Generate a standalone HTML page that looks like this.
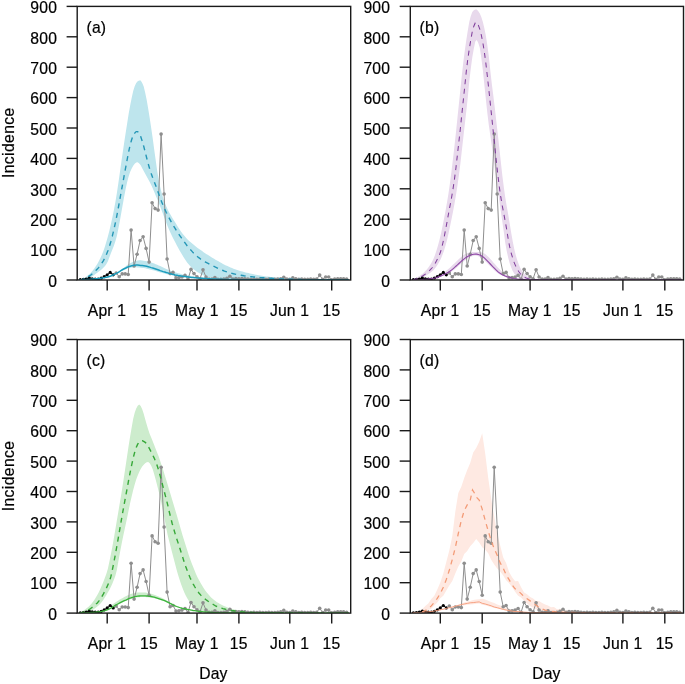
<!DOCTYPE html>
<html><head><meta charset="utf-8"><title>Incidence</title>
<style>html,body{margin:0;padding:0;background:#fff}svg{display:block}</style></head>
<body>
<svg width="685" height="684" viewBox="0 0 685 684">
<rect width="685" height="684" fill="#fff"/>
<g id="panel-a">
<clipPath id="clip-a"><rect x="77.2" y="6.4" width="273.5" height="273.6"/></clipPath>
<g clip-path="url(#clip-a)">
<path d="M79.4 280.0 L80.9 279.5 L82.4 278.9 L83.9 278.2 L85.4 277.3 L86.8 276.2 L88.3 275.0 L89.8 273.7 L91.3 272.2 L92.8 270.5 L94.3 268.5 L95.8 266.3 L97.3 263.9 L98.8 261.3 L100.3 258.3 L101.8 254.9 L103.3 251.2 L104.8 246.9 L106.3 242.1 L107.8 236.8 L109.3 230.9 L110.8 224.5 L112.3 217.8 L113.8 210.4 L115.3 202.5 L116.8 193.6 L118.3 183.5 L119.8 173.1 L121.3 162.3 L122.8 151.9 L124.3 141.8 L125.8 132.0 L127.3 122.5 L128.7 113.6 L130.2 105.2 L131.7 97.7 L133.2 90.9 L134.7 86.3 L136.2 82.9 L137.7 81.3 L139.2 80.4 L140.7 80.5 L142.2 82.9 L143.7 86.5 L145.2 92.7 L146.7 100.0 L148.2 108.8 L149.7 118.1 L151.2 127.9 L152.7 138.3 L154.2 149.4 L155.7 160.3 L157.2 171.1 L158.7 179.8 L160.2 186.9 L161.7 192.9 L163.2 198.2 L164.7 202.6 L166.2 206.3 L167.7 209.5 L169.2 212.4 L170.7 215.1 L172.1 217.5 L173.6 219.9 L175.1 222.3 L176.6 224.7 L178.1 227.2 L179.6 229.5 L181.1 231.7 L182.6 233.7 L184.1 235.5 L185.6 237.2 L187.1 238.9 L188.6 240.5 L190.1 241.8 L191.6 243.1 L193.1 244.3 L194.6 245.5 L196.1 246.8 L197.6 247.9 L199.1 249.0 L200.6 250.0 L202.1 251.1 L203.6 252.2 L205.1 253.2 L206.6 254.2 L208.1 255.1 L209.6 256.0 L211.1 257.0 L212.6 257.9 L214.1 258.8 L215.5 259.7 L217.0 260.5 L218.5 261.3 L220.0 262.2 L221.5 263.0 L223.0 263.9 L224.5 264.7 L226.0 265.4 L227.5 266.1 L229.0 266.8 L230.5 267.5 L232.0 268.1 L233.5 268.7 L235.0 269.2 L236.5 269.7 L238.0 270.3 L239.5 270.8 L241.0 271.2 L242.5 271.6 L244.0 272.0 L245.5 272.4 L247.0 272.8 L248.5 273.1 L250.0 273.4 L251.5 273.7 L253.0 274.0 L254.5 274.4 L256.0 274.7 L257.4 274.9 L258.9 275.2 L260.4 275.5 L261.9 275.8 L263.4 276.0 L264.9 276.2 L266.4 276.4 L267.9 276.5 L269.4 276.7 L270.9 276.9 L272.4 277.1 L273.9 277.3 L275.4 277.5 L276.9 277.6 L278.4 277.8 L279.9 277.9 L281.4 278.1 L282.9 278.2 L284.4 278.3 L285.9 278.4 L287.4 278.5 L288.9 278.6 L290.4 278.8 L291.9 278.9 L293.4 279.0 L294.9 279.1 L296.4 279.2 L297.9 279.2 L299.4 279.3 L300.8 279.4 L302.3 279.4 L303.8 279.5 L305.3 279.5 L306.8 279.5 L308.3 279.6 L309.8 279.6 L311.3 279.6 L312.8 279.7 L314.3 279.7 L315.8 279.7 L317.3 279.7 L318.8 279.7 L320.3 279.7 L321.8 279.7 L323.3 279.7 L324.8 279.8 L326.3 279.8 L327.8 279.8 L329.3 279.8 L330.8 279.8 L332.3 279.8 L333.8 279.8 L335.3 279.8 L336.8 279.8 L338.3 279.8 L339.8 279.8 L341.3 279.8 L342.7 279.8 L344.2 279.8 L345.7 279.8 L347.2 279.8 L348.7 279.8 L348.7 280.0 L347.2 280.0 L345.7 280.0 L344.2 280.0 L342.7 280.0 L341.3 280.0 L339.8 280.0 L338.3 280.0 L336.8 280.0 L335.3 280.0 L333.8 280.0 L332.3 280.0 L330.8 280.0 L329.3 280.0 L327.8 280.0 L326.3 280.0 L324.8 280.0 L323.3 280.0 L321.8 280.0 L320.3 280.0 L318.8 280.0 L317.3 280.0 L315.8 280.0 L314.3 280.0 L312.8 280.0 L311.3 280.0 L309.8 280.0 L308.3 280.0 L306.8 280.0 L305.3 280.0 L303.8 280.0 L302.3 279.9 L300.8 279.9 L299.4 279.9 L297.9 279.9 L296.4 279.9 L294.9 279.9 L293.4 279.9 L291.9 279.9 L290.4 279.9 L288.9 279.9 L287.4 279.9 L285.9 279.9 L284.4 279.9 L282.9 279.9 L281.4 279.9 L279.9 279.9 L278.4 279.9 L276.9 279.9 L275.4 279.9 L273.9 279.9 L272.4 279.9 L270.9 279.8 L269.4 279.8 L267.9 279.8 L266.4 279.8 L264.9 279.8 L263.4 279.8 L261.9 279.8 L260.4 279.8 L258.9 279.8 L257.4 279.8 L256.0 279.8 L254.5 279.8 L253.0 279.8 L251.5 279.8 L250.0 279.7 L248.5 279.7 L247.0 279.7 L245.5 279.7 L244.0 279.7 L242.5 279.7 L241.0 279.7 L239.5 279.7 L238.0 279.7 L236.5 279.6 L235.0 279.6 L233.5 279.6 L232.0 279.5 L230.5 279.5 L229.0 279.5 L227.5 279.4 L226.0 279.4 L224.5 279.3 L223.0 279.2 L221.5 279.1 L220.0 279.0 L218.5 278.8 L217.0 278.7 L215.5 278.6 L214.1 278.3 L212.6 278.0 L211.1 277.7 L209.6 277.4 L208.1 277.0 L206.6 276.6 L205.1 276.0 L203.6 275.4 L202.1 274.7 L200.6 273.9 L199.1 273.1 L197.6 272.2 L196.1 271.2 L194.6 270.1 L193.1 268.9 L191.6 267.5 L190.1 266.0 L188.6 264.3 L187.1 262.4 L185.6 260.2 L184.1 257.9 L182.6 255.5 L181.1 252.9 L179.6 250.4 L178.1 247.7 L176.6 244.9 L175.1 242.1 L173.6 239.2 L172.1 236.3 L170.7 233.2 L169.2 230.0 L167.7 226.4 L166.2 222.7 L164.7 218.7 L163.2 214.6 L161.7 210.5 L160.2 206.5 L158.7 202.8 L157.2 199.0 L155.7 195.4 L154.2 191.8 L152.7 188.3 L151.2 185.1 L149.7 182.1 L148.2 179.2 L146.7 176.5 L145.2 173.8 L143.7 171.0 L142.2 168.2 L140.7 165.3 L139.2 163.5 L137.7 162.2 L136.2 162.4 L134.7 163.8 L133.2 165.7 L131.7 168.4 L130.2 171.8 L128.7 176.2 L127.3 181.6 L125.8 188.3 L124.3 195.9 L122.8 204.3 L121.3 212.7 L119.8 221.2 L118.3 229.0 L116.8 236.3 L115.3 241.6 L113.8 245.9 L112.3 249.8 L110.8 253.6 L109.3 257.5 L107.8 261.4 L106.3 264.2 L104.8 266.2 L103.3 267.8 L101.8 269.2 L100.3 270.4 L98.8 271.6 L97.3 272.8 L95.8 273.8 L94.3 274.9 L92.8 276.0 L91.3 276.9 L89.8 277.6 L88.3 278.3 L86.8 278.9 L85.4 279.3 L83.9 279.6 L82.4 279.8 L80.9 280.0 L79.4 280.0Z" fill="#BEE5ED"/>
<path d="M79.4 280.0 L80.9 279.9 L82.4 279.8 L83.9 279.8 L85.4 279.7 L86.8 279.6 L88.3 279.5 L89.8 279.4 L91.3 279.2 L92.8 279.1 L94.3 279.0 L95.8 278.8 L97.3 278.6 L98.8 278.4 L100.3 278.2 L101.8 278.0 L103.3 277.8 L104.8 277.5 L106.3 277.2 L107.8 276.8 L109.3 276.4 L110.8 276.0 L112.3 275.3 L113.8 274.7 L115.3 273.9 L116.8 273.0 L118.3 272.0 L119.8 270.9 L121.3 269.8 L122.8 268.6 L124.3 267.4 L125.8 266.2 L127.3 265.1 L128.7 264.1 L130.2 263.2 L131.7 262.4 L133.2 261.7 L134.7 261.2 L136.2 260.8 L137.7 260.5 L139.2 260.3 L140.7 260.3 L142.2 260.5 L143.7 260.7 L145.2 261.0 L146.7 261.2 L148.2 261.5 L149.7 261.9 L151.2 262.4 L152.7 263.0 L154.2 263.6 L155.7 264.2 L157.2 264.8 L158.7 265.4 L160.2 266.1 L161.7 266.8 L163.2 267.5 L164.7 268.2 L166.2 268.9 L167.7 269.5 L169.2 270.1 L170.7 270.7 L172.1 271.2 L173.6 271.8 L175.1 272.3 L176.6 272.8 L178.1 273.2 L179.6 273.6 L181.1 274.0 L182.6 274.4 L184.1 274.7 L185.6 275.0 L187.1 275.3 L188.6 275.6 L190.1 275.8 L191.6 276.1 L193.1 276.3 L194.6 276.5 L196.1 276.7 L197.6 276.9 L199.1 277.1 L200.6 277.3 L202.1 277.4 L203.6 277.6 L205.1 277.8 L206.6 277.9 L208.1 278.1 L209.6 278.2 L211.1 278.3 L212.6 278.4 L214.1 278.5 L215.5 278.6 L217.0 278.7 L218.5 278.8 L220.0 278.9 L221.5 279.0 L223.0 279.0 L224.5 279.1 L226.0 279.2 L227.5 279.2 L229.0 279.3 L230.5 279.3 L232.0 279.4 L233.5 279.4 L235.0 279.4 L236.5 279.5 L238.0 279.5 L239.5 279.5 L241.0 279.5 L242.5 279.6 L244.0 279.6 L245.5 279.6 L247.0 279.6 L248.5 279.6 L250.0 279.7 L251.5 279.7 L253.0 279.7 L254.5 279.7 L256.0 279.7 L257.4 279.7 L258.9 279.8 L260.4 279.8 L261.9 279.8 L263.4 279.8 L264.9 279.8 L266.4 279.8 L267.9 279.8 L269.4 279.8 L270.9 279.8 L272.4 279.8 L273.9 279.8 L275.4 279.8 L276.9 279.8 L278.4 279.8 L279.9 279.8 L281.4 279.8 L282.9 279.8 L284.4 279.8 L285.9 279.8 L287.4 279.8 L288.9 279.8 L290.4 279.8 L291.9 279.9 L293.4 279.9 L294.9 279.9 L296.4 279.9 L297.9 279.9 L299.4 279.9 L300.8 279.9 L302.3 279.9 L303.8 279.9 L305.3 279.9 L306.8 279.9 L308.3 279.9 L309.8 279.9 L311.3 279.9 L312.8 279.9 L314.3 279.9 L315.8 279.9 L317.3 279.9 L318.8 279.9 L320.3 279.9 L321.8 279.9 L323.3 279.9 L324.8 279.9 L326.3 279.9 L327.8 279.9 L329.3 279.9 L330.8 279.9 L332.3 279.9 L333.8 279.9 L335.3 279.9 L336.8 279.9 L338.3 279.9 L339.8 279.9 L341.3 279.9 L342.7 279.9 L344.2 279.9 L345.7 279.9 L347.2 279.9 L348.7 279.9 L348.7 280.0 L347.2 279.9 L345.7 279.9 L344.2 279.9 L342.7 279.9 L341.3 279.9 L339.8 279.9 L338.3 279.9 L336.8 279.9 L335.3 279.9 L333.8 279.9 L332.3 279.9 L330.8 279.9 L329.3 279.9 L327.8 279.9 L326.3 279.9 L324.8 279.9 L323.3 279.9 L321.8 279.9 L320.3 279.9 L318.8 279.9 L317.3 279.9 L315.8 279.9 L314.3 279.9 L312.8 279.9 L311.3 279.9 L309.8 279.9 L308.3 279.9 L306.8 279.9 L305.3 279.9 L303.8 279.9 L302.3 279.9 L300.8 279.9 L299.4 279.9 L297.9 279.9 L296.4 279.9 L294.9 279.9 L293.4 279.9 L291.9 279.9 L290.4 279.9 L288.9 279.9 L287.4 279.9 L285.9 279.9 L284.4 279.9 L282.9 279.9 L281.4 279.9 L279.9 279.9 L278.4 279.9 L276.9 279.9 L275.4 279.9 L273.9 279.9 L272.4 279.9 L270.9 279.9 L269.4 279.9 L267.9 279.9 L266.4 279.9 L264.9 279.9 L263.4 279.9 L261.9 279.9 L260.4 279.9 L258.9 279.9 L257.4 279.8 L256.0 279.8 L254.5 279.8 L253.0 279.8 L251.5 279.8 L250.0 279.8 L248.5 279.8 L247.0 279.8 L245.5 279.8 L244.0 279.8 L242.5 279.8 L241.0 279.7 L239.5 279.7 L238.0 279.7 L236.5 279.7 L235.0 279.7 L233.5 279.7 L232.0 279.7 L230.5 279.6 L229.0 279.6 L227.5 279.6 L226.0 279.6 L224.5 279.5 L223.0 279.5 L221.5 279.5 L220.0 279.4 L218.5 279.4 L217.0 279.3 L215.5 279.3 L214.1 279.2 L212.6 279.2 L211.1 279.1 L209.6 279.1 L208.1 279.0 L206.6 278.9 L205.1 278.8 L203.6 278.8 L202.1 278.7 L200.6 278.6 L199.1 278.5 L197.6 278.4 L196.1 278.2 L194.6 278.1 L193.1 278.0 L191.6 277.9 L190.1 277.8 L188.6 277.6 L187.1 277.5 L185.6 277.3 L184.1 277.1 L182.6 277.0 L181.1 276.8 L179.6 276.6 L178.1 276.4 L176.6 276.1 L175.1 275.9 L173.6 275.6 L172.1 275.3 L170.7 275.0 L169.2 274.7 L167.7 274.4 L166.2 274.0 L164.7 273.6 L163.2 273.2 L161.7 272.8 L160.2 272.4 L158.7 272.0 L157.2 271.5 L155.7 271.1 L154.2 270.6 L152.7 270.2 L151.2 269.8 L149.7 269.4 L148.2 269.0 L146.7 268.7 L145.2 268.3 L143.7 268.1 L142.2 267.9 L140.7 267.7 L139.2 267.6 L137.7 267.4 L136.2 267.3 L134.7 267.3 L133.2 267.4 L131.7 267.6 L130.2 267.9 L128.7 268.2 L127.3 268.7 L125.8 269.2 L124.3 269.8 L122.8 270.4 L121.3 271.1 L119.8 271.9 L118.3 272.7 L116.8 273.4 L115.3 274.1 L113.8 274.8 L112.3 275.5 L110.8 276.0 L109.3 276.6 L107.8 277.0 L106.3 277.4 L104.8 277.7 L103.3 277.9 L101.8 278.2 L100.3 278.4 L98.8 278.6 L97.3 278.7 L95.8 278.9 L94.3 279.0 L92.8 279.1 L91.3 279.2 L89.8 279.4 L88.3 279.5 L86.8 279.6 L85.4 279.7 L83.9 279.8 L82.4 279.8 L80.9 279.9 L79.4 280.0Z" fill="#BEE5ED"/>
<path d="M116.2 273.0 L119.2 276.7 L122.2 273.9 L125.2 273.9 L128.2 274.5 L131.1 230.1 L134.1 266.0 L137.1 254.2 L140.1 240.5 L143.1 236.8 L146.1 248.4 L149.1 262.1 L152.1 202.8 L155.1 208.6 L158.1 210.1 L161.1 134.1 L164.1 194.0 L167.1 259.0 L170.1 273.6 L173.0 272.4 L176.0 277.9 L179.0 277.6 L182.0 277.0 L185.0 275.4 L188.0 279.1 L191.0 269.4 L194.0 273.6 L197.0 276.7 L200.0 278.8 L203.0 269.7 L206.0 277.0 L209.0 279.1 L212.0 279.1 L214.9 277.6 L217.9 279.4 L220.9 279.4 L223.9 279.1 L226.9 278.2 L229.9 276.2 L232.9 279.1 L235.9 278.5 L238.9 278.8 L241.9 278.5 L244.9 278.8 L247.9 279.1 L250.9 279.4 L253.9 279.1 L256.9 279.4 L259.8 279.1 L262.8 279.4 L265.8 279.4 L268.8 279.1 L271.8 279.4 L274.8 279.4 L277.8 279.1 L280.8 278.8 L283.8 277.3 L286.8 279.1 L289.8 279.4 L292.8 277.9 L295.8 278.8 L298.8 279.4 L301.7 279.1 L304.7 279.4 L307.7 279.4 L310.7 279.1 L313.7 279.4 L316.7 279.1 L319.7 275.1 L322.7 279.4 L325.7 277.0 L328.7 277.0 L331.7 279.7 L334.7 279.1 L337.7 278.8 L340.7 278.8 L343.6 278.8 L346.6 279.1" fill="none" stroke="#8e8e8e" stroke-width="1" stroke-linejoin="round"/>
<circle cx="116.2" cy="273.0" r="1.8" fill="#8e8e8e"/>
<circle cx="119.2" cy="276.7" r="1.8" fill="#8e8e8e"/>
<circle cx="122.2" cy="273.9" r="1.8" fill="#8e8e8e"/>
<circle cx="125.2" cy="273.9" r="1.8" fill="#8e8e8e"/>
<circle cx="128.2" cy="274.5" r="1.8" fill="#8e8e8e"/>
<circle cx="131.1" cy="230.1" r="1.8" fill="#8e8e8e"/>
<circle cx="134.1" cy="266.0" r="1.8" fill="#8e8e8e"/>
<circle cx="137.1" cy="254.2" r="1.8" fill="#8e8e8e"/>
<circle cx="140.1" cy="240.5" r="1.8" fill="#8e8e8e"/>
<circle cx="143.1" cy="236.8" r="1.8" fill="#8e8e8e"/>
<circle cx="146.1" cy="248.4" r="1.8" fill="#8e8e8e"/>
<circle cx="149.1" cy="262.1" r="1.8" fill="#8e8e8e"/>
<circle cx="152.1" cy="202.8" r="1.8" fill="#8e8e8e"/>
<circle cx="155.1" cy="208.6" r="1.8" fill="#8e8e8e"/>
<circle cx="158.1" cy="210.1" r="1.8" fill="#8e8e8e"/>
<circle cx="161.1" cy="134.1" r="1.8" fill="#8e8e8e"/>
<circle cx="164.1" cy="194.0" r="1.8" fill="#8e8e8e"/>
<circle cx="167.1" cy="259.0" r="1.8" fill="#8e8e8e"/>
<circle cx="170.1" cy="273.6" r="1.8" fill="#8e8e8e"/>
<circle cx="173.0" cy="272.4" r="1.8" fill="#8e8e8e"/>
<circle cx="176.0" cy="277.9" r="1.8" fill="#8e8e8e"/>
<circle cx="179.0" cy="277.6" r="1.8" fill="#8e8e8e"/>
<circle cx="182.0" cy="277.0" r="1.8" fill="#8e8e8e"/>
<circle cx="185.0" cy="275.4" r="1.8" fill="#8e8e8e"/>
<circle cx="188.0" cy="279.1" r="1.8" fill="#8e8e8e"/>
<circle cx="191.0" cy="269.4" r="1.8" fill="#8e8e8e"/>
<circle cx="194.0" cy="273.6" r="1.8" fill="#8e8e8e"/>
<circle cx="197.0" cy="276.7" r="1.8" fill="#8e8e8e"/>
<circle cx="200.0" cy="278.8" r="1.8" fill="#8e8e8e"/>
<circle cx="203.0" cy="269.7" r="1.8" fill="#8e8e8e"/>
<circle cx="206.0" cy="277.0" r="1.8" fill="#8e8e8e"/>
<circle cx="209.0" cy="279.1" r="1.8" fill="#8e8e8e"/>
<circle cx="212.0" cy="279.1" r="1.8" fill="#8e8e8e"/>
<circle cx="214.9" cy="277.6" r="1.8" fill="#8e8e8e"/>
<circle cx="217.9" cy="279.4" r="1.8" fill="#8e8e8e"/>
<circle cx="220.9" cy="279.4" r="1.8" fill="#8e8e8e"/>
<circle cx="223.9" cy="279.1" r="1.8" fill="#8e8e8e"/>
<circle cx="226.9" cy="278.2" r="1.8" fill="#8e8e8e"/>
<circle cx="229.9" cy="276.2" r="1.8" fill="#8e8e8e"/>
<circle cx="232.9" cy="279.1" r="1.8" fill="#8e8e8e"/>
<circle cx="235.9" cy="278.5" r="1.8" fill="#8e8e8e"/>
<circle cx="238.9" cy="278.8" r="1.8" fill="#8e8e8e"/>
<circle cx="241.9" cy="278.5" r="1.8" fill="#8e8e8e"/>
<circle cx="244.9" cy="278.8" r="1.8" fill="#8e8e8e"/>
<circle cx="247.9" cy="279.1" r="1.8" fill="#8e8e8e"/>
<circle cx="250.9" cy="279.4" r="1.8" fill="#8e8e8e"/>
<circle cx="253.9" cy="279.1" r="1.8" fill="#8e8e8e"/>
<circle cx="256.9" cy="279.4" r="1.8" fill="#8e8e8e"/>
<circle cx="259.8" cy="279.1" r="1.8" fill="#8e8e8e"/>
<circle cx="262.8" cy="279.4" r="1.8" fill="#8e8e8e"/>
<circle cx="265.8" cy="279.4" r="1.8" fill="#8e8e8e"/>
<circle cx="268.8" cy="279.1" r="1.8" fill="#8e8e8e"/>
<circle cx="271.8" cy="279.4" r="1.8" fill="#8e8e8e"/>
<circle cx="274.8" cy="279.4" r="1.8" fill="#8e8e8e"/>
<circle cx="277.8" cy="279.1" r="1.8" fill="#8e8e8e"/>
<circle cx="280.8" cy="278.8" r="1.8" fill="#8e8e8e"/>
<circle cx="283.8" cy="277.3" r="1.8" fill="#8e8e8e"/>
<circle cx="286.8" cy="279.1" r="1.8" fill="#8e8e8e"/>
<circle cx="289.8" cy="279.4" r="1.8" fill="#8e8e8e"/>
<circle cx="292.8" cy="277.9" r="1.8" fill="#8e8e8e"/>
<circle cx="295.8" cy="278.8" r="1.8" fill="#8e8e8e"/>
<circle cx="298.8" cy="279.4" r="1.8" fill="#8e8e8e"/>
<circle cx="301.7" cy="279.1" r="1.8" fill="#8e8e8e"/>
<circle cx="304.7" cy="279.4" r="1.8" fill="#8e8e8e"/>
<circle cx="307.7" cy="279.4" r="1.8" fill="#8e8e8e"/>
<circle cx="310.7" cy="279.1" r="1.8" fill="#8e8e8e"/>
<circle cx="313.7" cy="279.4" r="1.8" fill="#8e8e8e"/>
<circle cx="316.7" cy="279.1" r="1.8" fill="#8e8e8e"/>
<circle cx="319.7" cy="275.1" r="1.8" fill="#8e8e8e"/>
<circle cx="322.7" cy="279.4" r="1.8" fill="#8e8e8e"/>
<circle cx="325.7" cy="277.0" r="1.8" fill="#8e8e8e"/>
<circle cx="328.7" cy="277.0" r="1.8" fill="#8e8e8e"/>
<circle cx="331.7" cy="279.7" r="1.8" fill="#8e8e8e"/>
<circle cx="334.7" cy="279.1" r="1.8" fill="#8e8e8e"/>
<circle cx="337.7" cy="278.8" r="1.8" fill="#8e8e8e"/>
<circle cx="340.7" cy="278.8" r="1.8" fill="#8e8e8e"/>
<circle cx="343.6" cy="278.8" r="1.8" fill="#8e8e8e"/>
<circle cx="346.6" cy="279.1" r="1.8" fill="#8e8e8e"/>
<path d="M80.3 279.7 L83.3 279.4 L86.2 279.1 L89.2 277.9 L92.2 278.8 L95.2 279.1 L98.2 279.1 L101.2 278.2 L104.2 276.7 L107.2 274.8 L110.2 272.4 L113.2 274.8" fill="none" stroke="#000" stroke-width="1" stroke-linejoin="round"/>
<circle cx="80.3" cy="279.7" r="1.6" fill="#000"/>
<circle cx="83.3" cy="279.4" r="1.6" fill="#000"/>
<circle cx="86.2" cy="279.1" r="1.6" fill="#000"/>
<circle cx="89.2" cy="277.9" r="1.6" fill="#000"/>
<circle cx="92.2" cy="278.8" r="1.6" fill="#000"/>
<circle cx="95.2" cy="279.1" r="1.6" fill="#000"/>
<circle cx="98.2" cy="279.1" r="1.6" fill="#000"/>
<circle cx="101.2" cy="278.2" r="1.6" fill="#000"/>
<circle cx="104.2" cy="276.7" r="1.6" fill="#000"/>
<circle cx="107.2" cy="274.8" r="1.6" fill="#000"/>
<circle cx="110.2" cy="272.4" r="1.6" fill="#000"/>
<circle cx="113.2" cy="274.8" r="1.6" fill="#000"/>
<path d="M79.4 280.0 L80.9 279.7 L82.4 279.4 L83.9 278.9 L85.4 278.3 L86.8 277.6 L88.3 276.6 L89.8 275.7 L91.3 274.6 L92.8 273.4 L94.3 272.0 L95.8 270.6 L97.3 269.1 L98.8 267.4 L100.3 265.5 L101.8 263.3 L103.3 260.9 L104.8 258.2 L106.3 254.8 L107.8 251.1 L109.3 246.7 L110.8 241.8 L112.3 236.2 L113.8 230.0 L115.3 223.2 L116.8 215.9 L118.3 208.0 L119.8 199.8 L121.3 191.4 L122.8 183.1 L124.3 174.8 L125.8 166.8 L127.3 158.9 L128.7 151.6 L130.2 144.7 L131.7 139.5 L133.2 135.4 L134.7 133.1 L136.2 131.6 L137.7 131.6 L139.2 133.6 L140.7 136.6 L142.2 141.1 L143.7 146.2 L145.2 152.1 L146.7 158.0 L148.2 163.7 L149.7 168.9 L151.2 173.5 L152.7 177.7 L154.2 181.6 L155.7 185.6 L157.2 189.7 L158.7 193.8 L160.2 198.0 L161.7 201.9 L163.2 205.6 L164.7 209.0 L166.2 212.2 L167.7 215.2 L169.2 218.1 L170.7 220.9 L172.1 223.5 L173.6 226.0 L175.1 228.4 L176.6 230.8 L178.1 233.1 L179.6 235.3 L181.1 237.4 L182.6 239.5 L184.1 241.7 L185.6 243.7 L187.1 245.7 L188.6 247.6 L190.1 249.2 L191.6 250.9 L193.1 252.6 L194.6 254.1 L196.1 255.5 L197.6 256.8 L199.1 257.9 L200.6 259.0 L202.1 260.0 L203.6 260.9 L205.1 261.8 L206.6 262.7 L208.1 263.4 L209.6 264.2 L211.1 265.0 L212.6 265.7 L214.1 266.5 L215.5 267.2 L217.0 267.9 L218.5 268.6 L220.0 269.3 L221.5 269.9 L223.0 270.5 L224.5 271.1 L226.0 271.6 L227.5 272.1 L229.0 272.6 L230.5 273.0 L232.0 273.4 L233.5 273.8 L235.0 274.1 L236.5 274.4 L238.0 274.7 L239.5 274.9 L241.0 275.2 L242.5 275.5 L244.0 275.8 L245.5 276.0 L247.0 276.2 L248.5 276.4 L250.0 276.6 L251.5 276.7 L253.0 276.9 L254.5 277.0 L256.0 277.2 L257.4 277.3 L258.9 277.4 L260.4 277.6 L261.9 277.7 L263.4 277.8 L264.9 277.9 L266.4 278.0 L267.9 278.1 L269.4 278.2 L270.9 278.3 L272.4 278.4 L273.9 278.5 L275.4 278.6 L276.9 278.7 L278.4 278.8 L279.9 278.9 L281.4 279.0 L282.9 279.0 L284.4 279.1 L285.9 279.1 L287.4 279.2 L288.9 279.2 L290.4 279.3 L291.9 279.3 L293.4 279.4 L294.9 279.4 L296.4 279.4 L297.9 279.5 L299.4 279.5 L300.8 279.5 L302.3 279.6 L303.8 279.6 L305.3 279.6 L306.8 279.6 L308.3 279.7 L309.8 279.7 L311.3 279.7 L312.8 279.7 L314.3 279.7 L315.8 279.7 L317.3 279.8 L318.8 279.8 L320.3 279.8 L321.8 279.8 L323.3 279.8 L324.8 279.8 L326.3 279.8 L327.8 279.8 L329.3 279.8 L330.8 279.9 L332.3 279.9 L333.8 279.9 L335.3 279.9 L336.8 279.9 L338.3 279.9 L339.8 279.9 L341.3 279.9 L342.7 279.9 L344.2 279.9 L345.7 279.9 L347.2 279.9 L348.7 279.9" fill="none" stroke="#2496B6" stroke-width="1.4" stroke-dasharray="5 4.6"/>
<path d="M79.4 280.0 L80.9 279.9 L82.4 279.8 L83.9 279.8 L85.4 279.7 L86.8 279.6 L88.3 279.5 L89.8 279.4 L91.3 279.2 L92.8 279.1 L94.3 279.0 L95.8 278.8 L97.3 278.7 L98.8 278.5 L100.3 278.3 L101.8 278.1 L103.3 277.8 L104.8 277.6 L106.3 277.3 L107.8 277.0 L109.3 276.5 L110.8 276.0 L112.3 275.3 L113.8 274.7 L115.3 273.9 L116.8 273.1 L118.3 272.3 L119.8 271.4 L121.3 270.4 L122.8 269.5 L124.3 268.7 L125.8 268.0 L127.3 267.2 L128.7 266.6 L130.2 266.2 L131.7 265.8 L133.2 265.4 L134.7 265.2 L136.2 265.1 L137.7 265.1 L139.2 265.2 L140.7 265.4 L142.2 265.6 L143.7 265.8 L145.2 266.0 L146.7 266.3 L148.2 266.7 L149.7 267.1 L151.2 267.6 L152.7 268.0 L154.2 268.5 L155.7 269.0 L157.2 269.5 L158.7 270.0 L160.2 270.6 L161.7 271.1 L163.2 271.6 L164.7 272.0 L166.2 272.5 L167.7 272.9 L169.2 273.4 L170.7 273.8 L172.1 274.2 L173.6 274.5 L175.1 274.9 L176.6 275.2 L178.1 275.5 L179.6 275.7 L181.1 276.0 L182.6 276.2 L184.1 276.4 L185.6 276.6 L187.1 276.8 L188.6 277.0 L190.1 277.2 L191.6 277.4 L193.1 277.5 L194.6 277.7 L196.1 277.8 L197.6 277.9 L199.1 278.1 L200.6 278.2 L202.1 278.3 L203.6 278.4 L205.1 278.5 L206.6 278.6 L208.1 278.7 L209.6 278.8 L211.1 278.9 L212.6 279.0 L214.1 279.0 L215.5 279.1 L217.0 279.2 L218.5 279.2 L220.0 279.3 L221.5 279.3 L223.0 279.4 L224.5 279.4 L226.0 279.5 L227.5 279.5 L229.0 279.5 L230.5 279.5 L232.0 279.6 L233.5 279.6 L235.0 279.6 L236.5 279.6 L238.0 279.7 L239.5 279.7 L241.0 279.7 L242.5 279.7 L244.0 279.7 L245.5 279.7 L247.0 279.7 L248.5 279.8 L250.0 279.8 L251.5 279.8 L253.0 279.8 L254.5 279.8 L256.0 279.8 L257.4 279.8 L258.9 279.8 L260.4 279.8 L261.9 279.8 L263.4 279.8 L264.9 279.8 L266.4 279.8 L267.9 279.8 L269.4 279.8 L270.9 279.9 L272.4 279.9 L273.9 279.9 L275.4 279.9 L276.9 279.9 L278.4 279.9 L279.9 279.9 L281.4 279.9 L282.9 279.9 L284.4 279.9 L285.9 279.9 L287.4 279.9 L288.9 279.9 L290.4 279.9 L291.9 279.9 L293.4 279.9 L294.9 279.9 L296.4 279.9 L297.9 279.9 L299.4 279.9 L300.8 279.9 L302.3 279.9 L303.8 279.9 L305.3 279.9 L306.8 279.9 L308.3 279.9 L309.8 279.9 L311.3 279.9 L312.8 279.9 L314.3 279.9 L315.8 279.9 L317.3 279.9 L318.8 279.9 L320.3 279.9 L321.8 279.9 L323.3 279.9 L324.8 279.9 L326.3 279.9 L327.8 279.9 L329.3 279.9 L330.8 279.9 L332.3 279.9 L333.8 279.9 L335.3 279.9 L336.8 279.9 L338.3 279.9 L339.8 279.9 L341.3 279.9 L342.7 279.9 L344.2 279.9 L345.7 279.9 L347.2 279.9 L348.7 279.9" fill="none" stroke="#1B9CBC" stroke-width="1.5" stroke-linejoin="round"/>
</g>
<rect x="77.2" y="6.4" width="273.5" height="273.6" fill="none" stroke="#1a1a1a" stroke-width="1.4"/>
<line x1="66.6" y1="280.0" x2="77.2" y2="280.0" stroke="#1a1a1a" stroke-width="1.4"/>
<text x="57.1" y="286.7" text-anchor="end" font-family="Liberation Sans, Arial, sans-serif" font-size="15.7" letter-spacing="0.2" fill="#000" stroke="#000" stroke-width="0.2">0</text>
<line x1="66.6" y1="249.6" x2="77.2" y2="249.6" stroke="#1a1a1a" stroke-width="1.4"/>
<text x="57.1" y="256.3" text-anchor="end" font-family="Liberation Sans, Arial, sans-serif" font-size="15.7" letter-spacing="0.2" fill="#000" stroke="#000" stroke-width="0.2">100</text>
<line x1="66.6" y1="219.2" x2="77.2" y2="219.2" stroke="#1a1a1a" stroke-width="1.4"/>
<text x="57.1" y="225.9" text-anchor="end" font-family="Liberation Sans, Arial, sans-serif" font-size="15.7" letter-spacing="0.2" fill="#000" stroke="#000" stroke-width="0.2">200</text>
<line x1="66.6" y1="188.8" x2="77.2" y2="188.8" stroke="#1a1a1a" stroke-width="1.4"/>
<text x="57.1" y="195.5" text-anchor="end" font-family="Liberation Sans, Arial, sans-serif" font-size="15.7" letter-spacing="0.2" fill="#000" stroke="#000" stroke-width="0.2">300</text>
<line x1="66.6" y1="158.4" x2="77.2" y2="158.4" stroke="#1a1a1a" stroke-width="1.4"/>
<text x="57.1" y="165.1" text-anchor="end" font-family="Liberation Sans, Arial, sans-serif" font-size="15.7" letter-spacing="0.2" fill="#000" stroke="#000" stroke-width="0.2">400</text>
<line x1="66.6" y1="128.0" x2="77.2" y2="128.0" stroke="#1a1a1a" stroke-width="1.4"/>
<text x="57.1" y="134.7" text-anchor="end" font-family="Liberation Sans, Arial, sans-serif" font-size="15.7" letter-spacing="0.2" fill="#000" stroke="#000" stroke-width="0.2">500</text>
<line x1="66.6" y1="97.6" x2="77.2" y2="97.6" stroke="#1a1a1a" stroke-width="1.4"/>
<text x="57.1" y="104.3" text-anchor="end" font-family="Liberation Sans, Arial, sans-serif" font-size="15.7" letter-spacing="0.2" fill="#000" stroke="#000" stroke-width="0.2">600</text>
<line x1="66.6" y1="67.2" x2="77.2" y2="67.2" stroke="#1a1a1a" stroke-width="1.4"/>
<text x="57.1" y="73.9" text-anchor="end" font-family="Liberation Sans, Arial, sans-serif" font-size="15.7" letter-spacing="0.2" fill="#000" stroke="#000" stroke-width="0.2">700</text>
<line x1="66.6" y1="36.8" x2="77.2" y2="36.8" stroke="#1a1a1a" stroke-width="1.4"/>
<text x="57.1" y="43.5" text-anchor="end" font-family="Liberation Sans, Arial, sans-serif" font-size="15.7" letter-spacing="0.2" fill="#000" stroke="#000" stroke-width="0.2">800</text>
<line x1="66.6" y1="6.4" x2="77.2" y2="6.4" stroke="#1a1a1a" stroke-width="1.4"/>
<text x="57.1" y="13.1" text-anchor="end" font-family="Liberation Sans, Arial, sans-serif" font-size="15.7" letter-spacing="0.2" fill="#000" stroke="#000" stroke-width="0.2">900</text>
<line x1="107.2" y1="280.0" x2="107.2" y2="290.4" stroke="#1a1a1a" stroke-width="1.4"/>
<text x="107.0" y="316.1" text-anchor="middle" font-family="Liberation Sans, Arial, sans-serif" font-size="15.7" letter-spacing="0.2" fill="#000" stroke="#000" stroke-width="0.2">Apr 1</text>
<line x1="149.1" y1="280.0" x2="149.1" y2="290.4" stroke="#1a1a1a" stroke-width="1.4"/>
<text x="148.9" y="316.1" text-anchor="middle" font-family="Liberation Sans, Arial, sans-serif" font-size="15.7" letter-spacing="0.2" fill="#000" stroke="#000" stroke-width="0.2">15</text>
<line x1="197.0" y1="280.0" x2="197.0" y2="290.4" stroke="#1a1a1a" stroke-width="1.4"/>
<text x="196.8" y="316.1" text-anchor="middle" font-family="Liberation Sans, Arial, sans-serif" font-size="15.7" letter-spacing="0.2" fill="#000" stroke="#000" stroke-width="0.2">May 1</text>
<line x1="238.9" y1="280.0" x2="238.9" y2="290.4" stroke="#1a1a1a" stroke-width="1.4"/>
<text x="238.7" y="316.1" text-anchor="middle" font-family="Liberation Sans, Arial, sans-serif" font-size="15.7" letter-spacing="0.2" fill="#000" stroke="#000" stroke-width="0.2">15</text>
<line x1="289.8" y1="280.0" x2="289.8" y2="290.4" stroke="#1a1a1a" stroke-width="1.4"/>
<text x="289.6" y="316.1" text-anchor="middle" font-family="Liberation Sans, Arial, sans-serif" font-size="15.7" letter-spacing="0.2" fill="#000" stroke="#000" stroke-width="0.2">Jun 1</text>
<line x1="331.7" y1="280.0" x2="331.7" y2="290.4" stroke="#1a1a1a" stroke-width="1.4"/>
<text x="331.5" y="316.1" text-anchor="middle" font-family="Liberation Sans, Arial, sans-serif" font-size="15.7" letter-spacing="0.2" fill="#000" stroke="#000" stroke-width="0.2">15</text>
<text x="86.5" y="32.9" font-family="Liberation Sans, Arial, sans-serif" font-size="15.7" letter-spacing="0.2" fill="#000" stroke="#000" stroke-width="0.2">(a)</text>
<text transform="translate(13.8 142.7) rotate(-90)" text-anchor="middle" font-family="Liberation Sans, Arial, sans-serif" font-size="15.7" letter-spacing="0.2" fill="#000" stroke="#000" stroke-width="0.2" style="letter-spacing:0.4px">Incidence</text>
</g>
<g id="panel-b">
<clipPath id="clip-b"><rect x="410.3" y="6.4" width="273.2" height="273.6"/></clipPath>
<g clip-path="url(#clip-b)">
<path d="M412.5 280.0 L414.0 279.1 L415.5 278.3 L417.0 277.5 L418.5 276.6 L419.9 275.7 L421.4 274.6 L422.9 273.4 L424.4 272.1 L425.9 270.5 L427.4 268.7 L428.9 266.7 L430.4 264.5 L431.9 261.9 L433.4 259.0 L434.9 255.3 L436.4 250.8 L437.9 245.7 L439.4 240.2 L440.9 233.9 L442.4 226.7 L443.9 219.2 L445.4 211.4 L446.9 203.0 L448.4 193.9 L449.9 183.6 L451.4 171.9 L452.9 159.5 L454.4 146.5 L455.9 132.7 L457.4 118.2 L458.9 103.7 L460.4 89.2 L461.8 75.5 L463.3 62.3 L464.8 50.5 L466.3 40.1 L467.8 30.6 L469.3 21.8 L470.8 16.0 L472.3 11.9 L473.8 10.3 L475.3 9.6 L476.8 9.6 L478.3 11.2 L479.8 13.5 L481.3 17.1 L482.8 21.8 L484.3 27.9 L485.8 35.4 L487.3 44.9 L488.8 56.3 L490.3 70.5 L491.8 83.7 L493.3 95.5 L494.8 107.8 L496.3 120.9 L497.8 134.3 L499.3 147.8 L500.8 161.5 L502.3 175.3 L503.8 187.1 L505.2 196.9 L506.7 206.1 L508.2 214.6 L509.7 223.5 L511.2 232.8 L512.7 241.3 L514.2 248.8 L515.7 254.9 L517.2 260.1 L518.7 264.2 L520.2 267.7 L521.7 270.4 L523.2 272.5 L524.7 274.3 L526.2 275.7 L527.7 276.7 L529.2 277.5 L530.7 278.1 L532.2 278.6 L533.7 278.9 L535.2 279.1 L536.7 279.3 L538.2 279.5 L539.7 279.6 L541.2 279.7 L542.7 279.7 L544.2 279.7 L545.7 279.7 L547.2 279.7 L548.6 279.7 L550.1 279.7 L551.6 279.7 L553.1 279.8 L554.6 279.8 L556.1 279.8 L557.6 279.8 L559.1 279.8 L560.6 279.8 L562.1 279.8 L563.6 279.8 L565.1 279.8 L566.6 279.8 L568.1 279.8 L569.6 279.8 L571.1 279.8 L572.6 279.8 L574.1 279.8 L575.6 279.9 L577.1 279.9 L578.6 279.9 L580.1 279.9 L581.6 279.9 L583.1 279.9 L584.6 279.9 L586.1 279.9 L587.6 279.9 L589.1 279.9 L590.5 279.9 L592.0 279.9 L593.5 279.9 L595.0 279.9 L596.5 279.9 L598.0 279.9 L599.5 279.9 L601.0 279.9 L602.5 279.9 L604.0 279.9 L605.5 279.9 L607.0 279.9 L608.5 279.9 L610.0 279.9 L611.5 280.0 L613.0 280.0 L614.5 280.0 L616.0 280.0 L617.5 280.0 L619.0 280.0 L620.5 280.0 L622.0 280.0 L623.5 280.0 L625.0 280.0 L626.5 280.0 L628.0 280.0 L629.5 280.0 L631.0 280.0 L632.5 280.0 L633.9 280.0 L635.4 280.0 L636.9 280.0 L638.4 280.0 L639.9 280.0 L641.4 280.0 L642.9 280.0 L644.4 280.0 L645.9 280.0 L647.4 280.0 L648.9 280.0 L650.4 280.0 L651.9 280.0 L653.4 280.0 L654.9 280.0 L656.4 280.0 L657.9 280.0 L659.4 280.0 L660.9 280.0 L662.4 280.0 L663.9 280.0 L665.4 280.0 L666.9 280.0 L668.4 280.0 L669.9 280.0 L671.4 280.0 L672.9 280.0 L674.4 280.0 L675.8 280.0 L677.3 280.0 L678.8 280.0 L680.3 280.0 L681.8 280.0 L681.8 280.0 L680.3 280.0 L678.8 280.0 L677.3 280.0 L675.8 280.0 L674.4 280.0 L672.9 280.0 L671.4 280.0 L669.9 280.0 L668.4 280.0 L666.9 280.0 L665.4 280.0 L663.9 280.0 L662.4 280.0 L660.9 280.0 L659.4 280.0 L657.9 280.0 L656.4 280.0 L654.9 280.0 L653.4 280.0 L651.9 280.0 L650.4 280.0 L648.9 280.0 L647.4 280.0 L645.9 280.0 L644.4 280.0 L642.9 280.0 L641.4 280.0 L639.9 280.0 L638.4 280.0 L636.9 280.0 L635.4 280.0 L633.9 280.0 L632.5 280.0 L631.0 280.0 L629.5 280.0 L628.0 280.0 L626.5 280.0 L625.0 280.0 L623.5 280.0 L622.0 280.0 L620.5 280.0 L619.0 280.0 L617.5 280.0 L616.0 280.0 L614.5 280.0 L613.0 280.0 L611.5 280.0 L610.0 280.0 L608.5 280.0 L607.0 280.0 L605.5 279.9 L604.0 279.9 L602.5 279.9 L601.0 279.9 L599.5 279.9 L598.0 279.9 L596.5 279.9 L595.0 279.9 L593.5 279.9 L592.0 279.9 L590.5 279.9 L589.1 279.9 L587.6 279.9 L586.1 279.9 L584.6 279.9 L583.1 279.9 L581.6 279.9 L580.1 279.9 L578.6 279.9 L577.1 279.9 L575.6 279.9 L574.1 279.9 L572.6 279.9 L571.1 279.9 L569.6 279.9 L568.1 279.9 L566.6 279.9 L565.1 279.8 L563.6 279.8 L562.1 279.8 L560.6 279.8 L559.1 279.8 L557.6 279.8 L556.1 279.8 L554.6 279.8 L553.1 279.8 L551.6 279.8 L550.1 279.8 L548.6 279.8 L547.2 279.8 L545.7 279.8 L544.2 279.8 L542.7 279.8 L541.2 279.8 L539.7 279.7 L538.2 279.7 L536.7 279.7 L535.2 279.7 L533.7 279.7 L532.2 279.7 L530.7 279.7 L529.2 279.7 L527.7 279.6 L526.2 279.6 L524.7 279.4 L523.2 279.2 L521.7 278.8 L520.2 278.3 L518.7 277.6 L517.2 276.6 L515.7 275.2 L514.2 273.4 L512.7 270.9 L511.2 267.6 L509.7 263.2 L508.2 257.8 L506.7 251.1 L505.2 242.6 L503.8 231.9 L502.3 221.6 L500.8 211.2 L499.3 200.7 L497.8 190.1 L496.3 179.2 L494.8 168.0 L493.3 157.0 L491.8 146.0 L490.3 135.4 L488.8 125.0 L487.3 112.7 L485.8 98.7 L484.3 84.3 L482.8 69.8 L481.3 57.7 L479.8 47.7 L478.3 42.9 L476.8 40.1 L475.3 41.5 L473.8 48.8 L472.3 57.3 L470.8 68.4 L469.3 81.6 L467.8 97.2 L466.3 111.3 L464.8 124.6 L463.3 137.8 L461.8 150.9 L460.4 163.4 L458.9 175.3 L457.4 185.9 L455.9 195.5 L454.4 204.2 L452.9 212.2 L451.4 219.8 L449.9 227.0 L448.4 234.0 L446.9 240.6 L445.4 246.1 L443.9 250.9 L442.4 255.1 L440.9 258.7 L439.4 261.6 L437.9 264.2 L436.4 266.5 L434.9 268.6 L433.4 270.3 L431.9 271.6 L430.4 272.8 L428.9 273.8 L427.4 274.8 L425.9 275.7 L424.4 276.5 L422.9 277.3 L421.4 278.0 L419.9 278.6 L418.5 279.0 L417.0 279.4 L415.5 279.7 L414.0 280.0 L412.5 280.0Z" fill="#E8D9EC"/>
<path d="M412.5 279.9 L414.0 279.8 L415.5 279.8 L417.0 279.7 L418.5 279.5 L419.9 279.4 L421.4 279.2 L422.9 279.1 L424.4 278.9 L425.9 278.8 L427.4 278.6 L428.9 278.4 L430.4 278.1 L431.9 277.7 L433.4 277.2 L434.9 276.7 L436.4 276.1 L437.9 275.4 L439.4 274.8 L440.9 274.0 L442.4 273.2 L443.9 272.4 L445.4 271.4 L446.9 270.3 L448.4 269.0 L449.9 267.7 L451.4 266.3 L452.9 264.8 L454.4 263.4 L455.9 261.9 L457.4 260.4 L458.9 259.0 L460.4 257.7 L461.8 256.5 L463.3 255.3 L464.8 254.3 L466.3 253.5 L467.8 252.9 L469.3 252.4 L470.8 252.1 L472.3 252.0 L473.8 252.1 L475.3 252.0 L476.8 252.0 L478.3 252.0 L479.8 252.0 L481.3 252.3 L482.8 252.9 L484.3 253.6 L485.8 254.6 L487.3 255.9 L488.8 257.3 L490.3 258.9 L491.8 260.6 L493.3 262.4 L494.8 264.1 L496.3 265.8 L497.8 267.5 L499.3 269.1 L500.8 270.6 L502.3 272.0 L503.8 273.1 L505.2 274.1 L506.7 274.9 L508.2 275.6 L509.7 276.2 L511.2 276.7 L512.7 277.1 L514.2 277.6 L515.7 277.9 L517.2 278.3 L518.7 278.6 L520.2 278.8 L521.7 279.1 L523.2 279.2 L524.7 279.4 L526.2 279.5 L527.7 279.6 L529.2 279.7 L530.7 279.7 L532.2 279.8 L533.7 279.8 L535.2 279.8 L536.7 279.8 L538.2 279.8 L539.7 279.8 L541.2 279.8 L542.7 279.8 L544.2 279.8 L545.7 279.8 L547.2 279.8 L548.6 279.9 L550.1 279.9 L551.6 279.9 L553.1 279.9 L554.6 279.9 L556.1 279.9 L557.6 279.9 L559.1 279.9 L560.6 279.9 L562.1 279.9 L563.6 279.9 L565.1 279.9 L566.6 279.9 L568.1 279.9 L569.6 279.9 L571.1 279.9 L572.6 279.9 L574.1 279.9 L575.6 279.9 L577.1 279.9 L578.6 279.9 L580.1 279.9 L581.6 279.9 L583.1 279.9 L584.6 279.9 L586.1 279.9 L587.6 279.9 L589.1 279.9 L590.5 279.9 L592.0 279.9 L593.5 279.9 L595.0 280.0 L596.5 280.0 L598.0 280.0 L599.5 280.0 L601.0 280.0 L602.5 280.0 L604.0 280.0 L605.5 280.0 L607.0 280.0 L608.5 280.0 L610.0 280.0 L611.5 280.0 L613.0 280.0 L614.5 280.0 L616.0 280.0 L617.5 280.0 L619.0 280.0 L620.5 280.0 L622.0 280.0 L623.5 280.0 L625.0 280.0 L626.5 280.0 L628.0 280.0 L629.5 280.0 L631.0 280.0 L632.5 280.0 L633.9 280.0 L635.4 280.0 L636.9 280.0 L638.4 280.0 L639.9 280.0 L641.4 280.0 L642.9 280.0 L644.4 280.0 L645.9 280.0 L647.4 280.0 L648.9 280.0 L650.4 280.0 L651.9 280.0 L653.4 280.0 L654.9 280.0 L656.4 280.0 L657.9 280.0 L659.4 280.0 L660.9 280.0 L662.4 280.0 L663.9 280.0 L665.4 280.0 L666.9 280.0 L668.4 280.0 L669.9 280.0 L671.4 280.0 L672.9 280.0 L674.4 280.0 L675.8 280.0 L677.3 280.0 L678.8 280.0 L680.3 280.0 L681.8 280.0 L681.8 280.0 L680.3 280.0 L678.8 280.0 L677.3 280.0 L675.8 280.0 L674.4 280.0 L672.9 280.0 L671.4 280.0 L669.9 280.0 L668.4 280.0 L666.9 280.0 L665.4 280.0 L663.9 280.0 L662.4 280.0 L660.9 280.0 L659.4 280.0 L657.9 280.0 L656.4 280.0 L654.9 280.0 L653.4 280.0 L651.9 280.0 L650.4 280.0 L648.9 280.0 L647.4 280.0 L645.9 280.0 L644.4 280.0 L642.9 280.0 L641.4 280.0 L639.9 280.0 L638.4 280.0 L636.9 280.0 L635.4 280.0 L633.9 280.0 L632.5 280.0 L631.0 280.0 L629.5 280.0 L628.0 280.0 L626.5 280.0 L625.0 280.0 L623.5 280.0 L622.0 280.0 L620.5 280.0 L619.0 280.0 L617.5 280.0 L616.0 280.0 L614.5 280.0 L613.0 280.0 L611.5 280.0 L610.0 280.0 L608.5 280.0 L607.0 280.0 L605.5 280.0 L604.0 280.0 L602.5 280.0 L601.0 280.0 L599.5 280.0 L598.0 280.0 L596.5 280.0 L595.0 280.0 L593.5 280.0 L592.0 280.0 L590.5 280.0 L589.1 280.0 L587.6 280.0 L586.1 280.0 L584.6 279.9 L583.1 279.9 L581.6 279.9 L580.1 279.9 L578.6 279.9 L577.1 279.9 L575.6 279.9 L574.1 279.9 L572.6 279.9 L571.1 279.9 L569.6 279.9 L568.1 279.9 L566.6 279.9 L565.1 279.9 L563.6 279.9 L562.1 279.9 L560.6 279.9 L559.1 279.9 L557.6 279.9 L556.1 279.9 L554.6 279.9 L553.1 279.9 L551.6 279.9 L550.1 279.9 L548.6 279.9 L547.2 279.9 L545.7 279.9 L544.2 279.9 L542.7 279.9 L541.2 279.9 L539.7 279.9 L538.2 279.9 L536.7 279.9 L535.2 279.8 L533.7 279.8 L532.2 279.8 L530.7 279.8 L529.2 279.8 L527.7 279.8 L526.2 279.8 L524.7 279.7 L523.2 279.7 L521.7 279.6 L520.2 279.5 L518.7 279.3 L517.2 279.2 L515.7 279.0 L514.2 278.8 L512.7 278.5 L511.2 278.2 L509.7 277.9 L508.2 277.6 L506.7 277.2 L505.2 276.7 L503.8 276.2 L502.3 275.6 L500.8 275.0 L499.3 274.2 L497.8 273.2 L496.3 272.0 L494.8 270.7 L493.3 269.3 L491.8 267.8 L490.3 266.3 L488.8 264.8 L487.3 263.3 L485.8 261.8 L484.3 260.3 L482.8 259.0 L481.3 257.9 L479.8 257.0 L478.3 256.2 L476.8 255.7 L475.3 255.5 L473.8 255.8 L472.3 256.2 L470.8 256.8 L469.3 257.6 L467.8 258.5 L466.3 259.5 L464.8 260.6 L463.3 261.8 L461.8 263.0 L460.4 264.3 L458.9 265.6 L457.4 266.9 L455.9 268.2 L454.4 269.4 L452.9 270.6 L451.4 271.7 L449.9 272.6 L448.4 273.5 L446.9 274.2 L445.4 274.9 L443.9 275.5 L442.4 276.1 L440.9 276.6 L439.4 277.2 L437.9 277.7 L436.4 278.1 L434.9 278.4 L433.4 278.6 L431.9 278.8 L430.4 279.0 L428.9 279.1 L427.4 279.2 L425.9 279.4 L424.4 279.5 L422.9 279.6 L421.4 279.7 L419.9 279.8 L418.5 279.9 L417.0 279.9 L415.5 280.0 L414.0 280.0 L412.5 280.0Z" fill="#E8D9EC"/>
<path d="M449.3 273.0 L452.3 276.7 L455.3 273.9 L458.3 273.9 L461.3 274.5 L464.2 230.1 L467.2 266.0 L470.2 254.2 L473.2 240.5 L476.2 236.8 L479.2 248.4 L482.2 262.1 L485.2 202.8 L488.2 208.6 L491.2 210.1 L494.2 134.1 L497.2 194.0 L500.2 259.0 L503.2 273.6 L506.1 272.4 L509.1 277.9 L512.1 277.6 L515.1 277.0 L518.1 275.4 L521.1 279.1 L524.1 269.4 L527.1 273.6 L530.1 276.7 L533.1 278.8 L536.1 269.7 L539.1 277.0 L542.1 279.1 L545.1 279.1 L548.0 277.6 L551.0 279.4 L554.0 279.4 L557.0 279.1 L560.0 278.2 L563.0 276.2 L566.0 279.1 L569.0 278.5 L572.0 278.8 L575.0 278.5 L578.0 278.8 L581.0 279.1 L584.0 279.4 L587.0 279.1 L590.0 279.4 L592.9 279.1 L595.9 279.4 L598.9 279.4 L601.9 279.1 L604.9 279.4 L607.9 279.4 L610.9 279.1 L613.9 278.8 L616.9 277.3 L619.9 279.1 L622.9 279.4 L625.9 277.9 L628.9 278.8 L631.9 279.4 L634.8 279.1 L637.8 279.4 L640.8 279.4 L643.8 279.1 L646.8 279.4 L649.8 279.1 L652.8 275.1 L655.8 279.4 L658.8 277.0 L661.8 277.0 L664.8 279.7 L667.8 279.1 L670.8 278.8 L673.8 278.8 L676.7 278.8 L679.7 279.1" fill="none" stroke="#8e8e8e" stroke-width="1" stroke-linejoin="round"/>
<circle cx="449.3" cy="273.0" r="1.8" fill="#8e8e8e"/>
<circle cx="452.3" cy="276.7" r="1.8" fill="#8e8e8e"/>
<circle cx="455.3" cy="273.9" r="1.8" fill="#8e8e8e"/>
<circle cx="458.3" cy="273.9" r="1.8" fill="#8e8e8e"/>
<circle cx="461.3" cy="274.5" r="1.8" fill="#8e8e8e"/>
<circle cx="464.2" cy="230.1" r="1.8" fill="#8e8e8e"/>
<circle cx="467.2" cy="266.0" r="1.8" fill="#8e8e8e"/>
<circle cx="470.2" cy="254.2" r="1.8" fill="#8e8e8e"/>
<circle cx="473.2" cy="240.5" r="1.8" fill="#8e8e8e"/>
<circle cx="476.2" cy="236.8" r="1.8" fill="#8e8e8e"/>
<circle cx="479.2" cy="248.4" r="1.8" fill="#8e8e8e"/>
<circle cx="482.2" cy="262.1" r="1.8" fill="#8e8e8e"/>
<circle cx="485.2" cy="202.8" r="1.8" fill="#8e8e8e"/>
<circle cx="488.2" cy="208.6" r="1.8" fill="#8e8e8e"/>
<circle cx="491.2" cy="210.1" r="1.8" fill="#8e8e8e"/>
<circle cx="494.2" cy="134.1" r="1.8" fill="#8e8e8e"/>
<circle cx="497.2" cy="194.0" r="1.8" fill="#8e8e8e"/>
<circle cx="500.2" cy="259.0" r="1.8" fill="#8e8e8e"/>
<circle cx="503.2" cy="273.6" r="1.8" fill="#8e8e8e"/>
<circle cx="506.1" cy="272.4" r="1.8" fill="#8e8e8e"/>
<circle cx="509.1" cy="277.9" r="1.8" fill="#8e8e8e"/>
<circle cx="512.1" cy="277.6" r="1.8" fill="#8e8e8e"/>
<circle cx="515.1" cy="277.0" r="1.8" fill="#8e8e8e"/>
<circle cx="518.1" cy="275.4" r="1.8" fill="#8e8e8e"/>
<circle cx="521.1" cy="279.1" r="1.8" fill="#8e8e8e"/>
<circle cx="524.1" cy="269.4" r="1.8" fill="#8e8e8e"/>
<circle cx="527.1" cy="273.6" r="1.8" fill="#8e8e8e"/>
<circle cx="530.1" cy="276.7" r="1.8" fill="#8e8e8e"/>
<circle cx="533.1" cy="278.8" r="1.8" fill="#8e8e8e"/>
<circle cx="536.1" cy="269.7" r="1.8" fill="#8e8e8e"/>
<circle cx="539.1" cy="277.0" r="1.8" fill="#8e8e8e"/>
<circle cx="542.1" cy="279.1" r="1.8" fill="#8e8e8e"/>
<circle cx="545.1" cy="279.1" r="1.8" fill="#8e8e8e"/>
<circle cx="548.0" cy="277.6" r="1.8" fill="#8e8e8e"/>
<circle cx="551.0" cy="279.4" r="1.8" fill="#8e8e8e"/>
<circle cx="554.0" cy="279.4" r="1.8" fill="#8e8e8e"/>
<circle cx="557.0" cy="279.1" r="1.8" fill="#8e8e8e"/>
<circle cx="560.0" cy="278.2" r="1.8" fill="#8e8e8e"/>
<circle cx="563.0" cy="276.2" r="1.8" fill="#8e8e8e"/>
<circle cx="566.0" cy="279.1" r="1.8" fill="#8e8e8e"/>
<circle cx="569.0" cy="278.5" r="1.8" fill="#8e8e8e"/>
<circle cx="572.0" cy="278.8" r="1.8" fill="#8e8e8e"/>
<circle cx="575.0" cy="278.5" r="1.8" fill="#8e8e8e"/>
<circle cx="578.0" cy="278.8" r="1.8" fill="#8e8e8e"/>
<circle cx="581.0" cy="279.1" r="1.8" fill="#8e8e8e"/>
<circle cx="584.0" cy="279.4" r="1.8" fill="#8e8e8e"/>
<circle cx="587.0" cy="279.1" r="1.8" fill="#8e8e8e"/>
<circle cx="590.0" cy="279.4" r="1.8" fill="#8e8e8e"/>
<circle cx="592.9" cy="279.1" r="1.8" fill="#8e8e8e"/>
<circle cx="595.9" cy="279.4" r="1.8" fill="#8e8e8e"/>
<circle cx="598.9" cy="279.4" r="1.8" fill="#8e8e8e"/>
<circle cx="601.9" cy="279.1" r="1.8" fill="#8e8e8e"/>
<circle cx="604.9" cy="279.4" r="1.8" fill="#8e8e8e"/>
<circle cx="607.9" cy="279.4" r="1.8" fill="#8e8e8e"/>
<circle cx="610.9" cy="279.1" r="1.8" fill="#8e8e8e"/>
<circle cx="613.9" cy="278.8" r="1.8" fill="#8e8e8e"/>
<circle cx="616.9" cy="277.3" r="1.8" fill="#8e8e8e"/>
<circle cx="619.9" cy="279.1" r="1.8" fill="#8e8e8e"/>
<circle cx="622.9" cy="279.4" r="1.8" fill="#8e8e8e"/>
<circle cx="625.9" cy="277.9" r="1.8" fill="#8e8e8e"/>
<circle cx="628.9" cy="278.8" r="1.8" fill="#8e8e8e"/>
<circle cx="631.9" cy="279.4" r="1.8" fill="#8e8e8e"/>
<circle cx="634.8" cy="279.1" r="1.8" fill="#8e8e8e"/>
<circle cx="637.8" cy="279.4" r="1.8" fill="#8e8e8e"/>
<circle cx="640.8" cy="279.4" r="1.8" fill="#8e8e8e"/>
<circle cx="643.8" cy="279.1" r="1.8" fill="#8e8e8e"/>
<circle cx="646.8" cy="279.4" r="1.8" fill="#8e8e8e"/>
<circle cx="649.8" cy="279.1" r="1.8" fill="#8e8e8e"/>
<circle cx="652.8" cy="275.1" r="1.8" fill="#8e8e8e"/>
<circle cx="655.8" cy="279.4" r="1.8" fill="#8e8e8e"/>
<circle cx="658.8" cy="277.0" r="1.8" fill="#8e8e8e"/>
<circle cx="661.8" cy="277.0" r="1.8" fill="#8e8e8e"/>
<circle cx="664.8" cy="279.7" r="1.8" fill="#8e8e8e"/>
<circle cx="667.8" cy="279.1" r="1.8" fill="#8e8e8e"/>
<circle cx="670.8" cy="278.8" r="1.8" fill="#8e8e8e"/>
<circle cx="673.8" cy="278.8" r="1.8" fill="#8e8e8e"/>
<circle cx="676.7" cy="278.8" r="1.8" fill="#8e8e8e"/>
<circle cx="679.7" cy="279.1" r="1.8" fill="#8e8e8e"/>
<path d="M413.4 279.7 L416.4 279.4 L419.3 279.1 L422.3 277.9 L425.3 278.8 L428.3 279.1 L431.3 279.1 L434.3 278.2 L437.3 276.7 L440.3 274.8 L443.3 272.4 L446.3 274.8" fill="none" stroke="#000" stroke-width="1" stroke-linejoin="round"/>
<circle cx="413.4" cy="279.7" r="1.6" fill="#000"/>
<circle cx="416.4" cy="279.4" r="1.6" fill="#000"/>
<circle cx="419.3" cy="279.1" r="1.6" fill="#000"/>
<circle cx="422.3" cy="277.9" r="1.6" fill="#000"/>
<circle cx="425.3" cy="278.8" r="1.6" fill="#000"/>
<circle cx="428.3" cy="279.1" r="1.6" fill="#000"/>
<circle cx="431.3" cy="279.1" r="1.6" fill="#000"/>
<circle cx="434.3" cy="278.2" r="1.6" fill="#000"/>
<circle cx="437.3" cy="276.7" r="1.6" fill="#000"/>
<circle cx="440.3" cy="274.8" r="1.6" fill="#000"/>
<circle cx="443.3" cy="272.4" r="1.6" fill="#000"/>
<circle cx="446.3" cy="274.8" r="1.6" fill="#000"/>
<path d="M412.5 280.0 L414.0 279.5 L415.5 279.1 L417.0 278.6 L418.5 278.0 L419.9 277.3 L421.4 276.5 L422.9 275.7 L424.4 274.8 L425.9 273.8 L427.4 272.6 L428.9 271.2 L430.4 269.7 L431.9 268.0 L433.4 266.1 L434.9 263.8 L436.4 261.1 L437.9 258.1 L439.4 255.0 L440.9 250.8 L442.4 245.0 L443.9 238.3 L445.4 230.7 L446.9 222.7 L448.4 214.4 L449.9 206.3 L451.4 198.5 L452.9 189.7 L454.4 179.6 L455.9 168.2 L457.4 154.9 L458.9 141.6 L460.4 128.2 L461.8 114.5 L463.3 100.4 L464.8 86.0 L466.3 71.3 L467.8 59.0 L469.3 48.9 L470.8 39.9 L472.3 31.5 L473.8 26.2 L475.3 22.7 L476.8 22.2 L478.3 25.1 L479.8 29.1 L481.3 35.0 L482.8 42.4 L484.3 51.7 L485.8 62.7 L487.3 75.8 L488.8 89.4 L490.3 103.4 L491.8 117.6 L493.3 132.1 L494.8 146.5 L496.3 160.9 L497.8 174.3 L499.3 186.8 L500.8 197.2 L502.3 205.8 L503.8 213.8 L505.2 221.2 L506.7 229.4 L508.2 239.1 L509.7 246.9 L511.2 253.1 L512.7 258.2 L514.2 262.6 L515.7 266.1 L517.2 269.1 L518.7 271.5 L520.2 273.5 L521.7 275.1 L523.2 276.4 L524.7 277.3 L526.2 277.9 L527.7 278.4 L529.2 278.7 L530.7 279.0 L532.2 279.3 L533.7 279.5 L535.2 279.7 L536.7 279.7 L538.2 279.7 L539.7 279.7 L541.2 279.7 L542.7 279.7 L544.2 279.7 L545.7 279.7 L547.2 279.8 L548.6 279.8 L550.1 279.8 L551.6 279.8 L553.1 279.8 L554.6 279.8 L556.1 279.8 L557.6 279.8 L559.1 279.8 L560.6 279.8 L562.1 279.8 L563.6 279.8 L565.1 279.8 L566.6 279.8 L568.1 279.8 L569.6 279.9 L571.1 279.9 L572.6 279.9 L574.1 279.9 L575.6 279.9 L577.1 279.9 L578.6 279.9 L580.1 279.9 L581.6 279.9 L583.1 279.9 L584.6 279.9 L586.1 279.9 L587.6 279.9 L589.1 279.9 L590.5 279.9 L592.0 279.9 L593.5 279.9 L595.0 279.9 L596.5 279.9 L598.0 279.9 L599.5 279.9 L601.0 279.9 L602.5 279.9 L604.0 279.9 L605.5 279.9 L607.0 280.0 L608.5 280.0 L610.0 280.0 L611.5 280.0 L613.0 280.0 L614.5 280.0 L616.0 280.0 L617.5 280.0 L619.0 280.0 L620.5 280.0 L622.0 280.0 L623.5 280.0 L625.0 280.0 L626.5 280.0 L628.0 280.0 L629.5 280.0 L631.0 280.0 L632.5 280.0 L633.9 280.0 L635.4 280.0 L636.9 280.0 L638.4 280.0 L639.9 280.0 L641.4 280.0 L642.9 280.0 L644.4 280.0 L645.9 280.0 L647.4 280.0 L648.9 280.0 L650.4 280.0 L651.9 280.0 L653.4 280.0 L654.9 280.0 L656.4 280.0 L657.9 280.0 L659.4 280.0 L660.9 280.0 L662.4 280.0 L663.9 280.0 L665.4 280.0 L666.9 280.0 L668.4 280.0 L669.9 280.0 L671.4 280.0 L672.9 280.0 L674.4 280.0 L675.8 280.0 L677.3 280.0 L678.8 280.0 L680.3 280.0 L681.8 280.0" fill="none" stroke="#803F9C" stroke-width="1.05" stroke-dasharray="5 4.6"/>
<path d="M412.5 280.0 L414.0 280.0 L415.5 279.9 L417.0 279.9 L418.5 279.8 L419.9 279.7 L421.4 279.6 L422.9 279.5 L424.4 279.3 L425.9 279.2 L427.4 279.1 L428.9 278.9 L430.4 278.7 L431.9 278.5 L433.4 278.3 L434.9 278.0 L436.4 277.6 L437.9 277.1 L439.4 276.5 L440.9 275.9 L442.4 275.3 L443.9 274.6 L445.4 273.9 L446.9 273.1 L448.4 272.2 L449.9 271.2 L451.4 270.1 L452.9 268.9 L454.4 267.6 L455.9 266.2 L457.4 264.9 L458.9 263.5 L460.4 262.1 L461.8 260.8 L463.3 259.6 L464.8 258.4 L466.3 257.3 L467.8 256.4 L469.3 255.6 L470.8 255.0 L472.3 254.5 L473.8 254.2 L475.3 254.1 L476.8 254.1 L478.3 254.5 L479.8 255.0 L481.3 255.7 L482.8 256.7 L484.3 257.9 L485.8 259.3 L487.3 260.8 L488.8 262.4 L490.3 264.0 L491.8 265.6 L493.3 267.2 L494.8 268.7 L496.3 270.2 L497.8 271.6 L499.3 272.8 L500.8 273.8 L502.3 274.7 L503.8 275.4 L505.2 276.0 L506.7 276.6 L508.2 277.0 L509.7 277.4 L511.2 277.8 L512.7 278.2 L514.2 278.5 L515.7 278.7 L517.2 279.0 L518.7 279.2 L520.2 279.3 L521.7 279.4 L523.2 279.6 L524.7 279.6 L526.2 279.7 L527.7 279.8 L529.2 279.8 L530.7 279.8 L532.2 279.8 L533.7 279.8 L535.2 279.8 L536.7 279.8 L538.2 279.8 L539.7 279.8 L541.2 279.9 L542.7 279.9 L544.2 279.9 L545.7 279.9 L547.2 279.9 L548.6 279.9 L550.1 279.9 L551.6 279.9 L553.1 279.9 L554.6 279.9 L556.1 279.9 L557.6 279.9 L559.1 279.9 L560.6 279.9 L562.1 279.9 L563.6 279.9 L565.1 279.9 L566.6 279.9 L568.1 279.9 L569.6 279.9 L571.1 279.9 L572.6 279.9 L574.1 279.9 L575.6 279.9 L577.1 279.9 L578.6 279.9 L580.1 279.9 L581.6 279.9 L583.1 279.9 L584.6 279.9 L586.1 279.9 L587.6 279.9 L589.1 280.0 L590.5 280.0 L592.0 280.0 L593.5 280.0 L595.0 280.0 L596.5 280.0 L598.0 280.0 L599.5 280.0 L601.0 280.0 L602.5 280.0 L604.0 280.0 L605.5 280.0 L607.0 280.0 L608.5 280.0 L610.0 280.0 L611.5 280.0 L613.0 280.0 L614.5 280.0 L616.0 280.0 L617.5 280.0 L619.0 280.0 L620.5 280.0 L622.0 280.0 L623.5 280.0 L625.0 280.0 L626.5 280.0 L628.0 280.0 L629.5 280.0 L631.0 280.0 L632.5 280.0 L633.9 280.0 L635.4 280.0 L636.9 280.0 L638.4 280.0 L639.9 280.0 L641.4 280.0 L642.9 280.0 L644.4 280.0 L645.9 280.0 L647.4 280.0 L648.9 280.0 L650.4 280.0 L651.9 280.0 L653.4 280.0 L654.9 280.0 L656.4 280.0 L657.9 280.0 L659.4 280.0 L660.9 280.0 L662.4 280.0 L663.9 280.0 L665.4 280.0 L666.9 280.0 L668.4 280.0 L669.9 280.0 L671.4 280.0 L672.9 280.0 L674.4 280.0 L675.8 280.0 L677.3 280.0 L678.8 280.0 L680.3 280.0 L681.8 280.0" fill="none" stroke="#8E48A6" stroke-width="1.15" stroke-linejoin="round"/>
</g>
<rect x="410.3" y="6.4" width="273.2" height="273.6" fill="none" stroke="#1a1a1a" stroke-width="1.4"/>
<line x1="399.7" y1="280.0" x2="410.3" y2="280.0" stroke="#1a1a1a" stroke-width="1.4"/>
<text x="390.2" y="286.7" text-anchor="end" font-family="Liberation Sans, Arial, sans-serif" font-size="15.7" letter-spacing="0.2" fill="#000" stroke="#000" stroke-width="0.2">0</text>
<line x1="399.7" y1="249.6" x2="410.3" y2="249.6" stroke="#1a1a1a" stroke-width="1.4"/>
<text x="390.2" y="256.3" text-anchor="end" font-family="Liberation Sans, Arial, sans-serif" font-size="15.7" letter-spacing="0.2" fill="#000" stroke="#000" stroke-width="0.2">100</text>
<line x1="399.7" y1="219.2" x2="410.3" y2="219.2" stroke="#1a1a1a" stroke-width="1.4"/>
<text x="390.2" y="225.9" text-anchor="end" font-family="Liberation Sans, Arial, sans-serif" font-size="15.7" letter-spacing="0.2" fill="#000" stroke="#000" stroke-width="0.2">200</text>
<line x1="399.7" y1="188.8" x2="410.3" y2="188.8" stroke="#1a1a1a" stroke-width="1.4"/>
<text x="390.2" y="195.5" text-anchor="end" font-family="Liberation Sans, Arial, sans-serif" font-size="15.7" letter-spacing="0.2" fill="#000" stroke="#000" stroke-width="0.2">300</text>
<line x1="399.7" y1="158.4" x2="410.3" y2="158.4" stroke="#1a1a1a" stroke-width="1.4"/>
<text x="390.2" y="165.1" text-anchor="end" font-family="Liberation Sans, Arial, sans-serif" font-size="15.7" letter-spacing="0.2" fill="#000" stroke="#000" stroke-width="0.2">400</text>
<line x1="399.7" y1="128.0" x2="410.3" y2="128.0" stroke="#1a1a1a" stroke-width="1.4"/>
<text x="390.2" y="134.7" text-anchor="end" font-family="Liberation Sans, Arial, sans-serif" font-size="15.7" letter-spacing="0.2" fill="#000" stroke="#000" stroke-width="0.2">500</text>
<line x1="399.7" y1="97.6" x2="410.3" y2="97.6" stroke="#1a1a1a" stroke-width="1.4"/>
<text x="390.2" y="104.3" text-anchor="end" font-family="Liberation Sans, Arial, sans-serif" font-size="15.7" letter-spacing="0.2" fill="#000" stroke="#000" stroke-width="0.2">600</text>
<line x1="399.7" y1="67.2" x2="410.3" y2="67.2" stroke="#1a1a1a" stroke-width="1.4"/>
<text x="390.2" y="73.9" text-anchor="end" font-family="Liberation Sans, Arial, sans-serif" font-size="15.7" letter-spacing="0.2" fill="#000" stroke="#000" stroke-width="0.2">700</text>
<line x1="399.7" y1="36.8" x2="410.3" y2="36.8" stroke="#1a1a1a" stroke-width="1.4"/>
<text x="390.2" y="43.5" text-anchor="end" font-family="Liberation Sans, Arial, sans-serif" font-size="15.7" letter-spacing="0.2" fill="#000" stroke="#000" stroke-width="0.2">800</text>
<line x1="399.7" y1="6.4" x2="410.3" y2="6.4" stroke="#1a1a1a" stroke-width="1.4"/>
<text x="390.2" y="13.1" text-anchor="end" font-family="Liberation Sans, Arial, sans-serif" font-size="15.7" letter-spacing="0.2" fill="#000" stroke="#000" stroke-width="0.2">900</text>
<line x1="440.3" y1="280.0" x2="440.3" y2="290.4" stroke="#1a1a1a" stroke-width="1.4"/>
<text x="440.1" y="316.1" text-anchor="middle" font-family="Liberation Sans, Arial, sans-serif" font-size="15.7" letter-spacing="0.2" fill="#000" stroke="#000" stroke-width="0.2">Apr 1</text>
<line x1="482.2" y1="280.0" x2="482.2" y2="290.4" stroke="#1a1a1a" stroke-width="1.4"/>
<text x="482.0" y="316.1" text-anchor="middle" font-family="Liberation Sans, Arial, sans-serif" font-size="15.7" letter-spacing="0.2" fill="#000" stroke="#000" stroke-width="0.2">15</text>
<line x1="530.1" y1="280.0" x2="530.1" y2="290.4" stroke="#1a1a1a" stroke-width="1.4"/>
<text x="529.9" y="316.1" text-anchor="middle" font-family="Liberation Sans, Arial, sans-serif" font-size="15.7" letter-spacing="0.2" fill="#000" stroke="#000" stroke-width="0.2">May 1</text>
<line x1="572.0" y1="280.0" x2="572.0" y2="290.4" stroke="#1a1a1a" stroke-width="1.4"/>
<text x="571.8" y="316.1" text-anchor="middle" font-family="Liberation Sans, Arial, sans-serif" font-size="15.7" letter-spacing="0.2" fill="#000" stroke="#000" stroke-width="0.2">15</text>
<line x1="622.9" y1="280.0" x2="622.9" y2="290.4" stroke="#1a1a1a" stroke-width="1.4"/>
<text x="622.7" y="316.1" text-anchor="middle" font-family="Liberation Sans, Arial, sans-serif" font-size="15.7" letter-spacing="0.2" fill="#000" stroke="#000" stroke-width="0.2">Jun 1</text>
<line x1="664.8" y1="280.0" x2="664.8" y2="290.4" stroke="#1a1a1a" stroke-width="1.4"/>
<text x="664.6" y="316.1" text-anchor="middle" font-family="Liberation Sans, Arial, sans-serif" font-size="15.7" letter-spacing="0.2" fill="#000" stroke="#000" stroke-width="0.2">15</text>
<text x="419.6" y="32.9" font-family="Liberation Sans, Arial, sans-serif" font-size="15.7" letter-spacing="0.2" fill="#000" stroke="#000" stroke-width="0.2">(b)</text>
</g>
<g id="panel-c">
<clipPath id="clip-c"><rect x="77.2" y="339.6" width="273.5" height="273.5"/></clipPath>
<g clip-path="url(#clip-c)">
<path d="M79.4 613.1 L80.9 612.1 L82.4 611.2 L83.9 610.3 L85.4 609.2 L86.8 608.1 L88.3 606.9 L89.8 605.5 L91.3 603.9 L92.8 602.0 L94.3 599.9 L95.8 597.6 L97.3 595.0 L98.8 592.2 L100.3 589.0 L101.8 585.6 L103.3 582.0 L104.8 578.1 L106.3 574.0 L107.8 568.9 L109.3 562.1 L110.8 554.8 L112.3 546.9 L113.8 538.6 L115.3 529.7 L116.8 520.8 L118.3 512.0 L119.8 503.1 L121.3 494.1 L122.8 484.6 L124.3 474.7 L125.8 464.7 L127.3 454.8 L128.7 445.2 L130.2 435.9 L131.7 427.2 L133.2 418.8 L134.7 412.8 L136.2 408.5 L137.7 405.7 L139.2 404.6 L140.7 405.9 L142.2 409.3 L143.7 413.7 L145.2 419.2 L146.7 424.5 L148.2 429.5 L149.7 433.9 L151.2 437.6 L152.7 441.3 L154.2 445.1 L155.7 448.9 L157.2 452.7 L158.7 456.6 L160.2 460.9 L161.7 465.4 L163.2 470.1 L164.7 474.9 L166.2 479.7 L167.7 484.7 L169.2 489.7 L170.7 494.7 L172.1 499.5 L173.6 504.4 L175.1 509.4 L176.6 514.5 L178.1 519.7 L179.6 524.9 L181.1 530.3 L182.6 535.5 L184.1 540.3 L185.6 545.1 L187.1 549.8 L188.6 554.4 L190.1 558.9 L191.6 563.0 L193.1 566.8 L194.6 570.5 L196.1 574.3 L197.6 577.5 L199.1 580.2 L200.6 582.9 L202.1 585.5 L203.6 587.9 L205.1 590.2 L206.6 592.3 L208.1 594.1 L209.6 595.8 L211.1 597.4 L212.6 598.7 L214.1 599.9 L215.5 601.1 L217.0 602.2 L218.5 603.1 L220.0 604.0 L221.5 604.8 L223.0 605.5 L224.5 606.2 L226.0 606.8 L227.5 607.4 L229.0 607.9 L230.5 608.4 L232.0 608.9 L233.5 609.3 L235.0 609.7 L236.5 610.0 L238.0 610.3 L239.5 610.5 L241.0 610.8 L242.5 611.0 L244.0 611.2 L245.5 611.4 L247.0 611.5 L248.5 611.7 L250.0 611.8 L251.5 612.0 L253.0 612.1 L254.5 612.2 L256.0 612.3 L257.4 612.3 L258.9 612.4 L260.4 612.5 L261.9 612.6 L263.4 612.6 L264.9 612.7 L266.4 612.7 L267.9 612.7 L269.4 612.8 L270.9 612.8 L272.4 612.8 L273.9 612.9 L275.4 612.9 L276.9 612.9 L278.4 612.9 L279.9 613.0 L281.4 613.0 L282.9 613.0 L284.4 613.0 L285.9 613.0 L287.4 613.0 L288.9 613.0 L290.4 613.0 L291.9 613.0 L293.4 613.0 L294.9 613.0 L296.4 613.0 L297.9 613.0 L299.4 613.0 L300.8 613.0 L302.3 613.0 L303.8 613.1 L305.3 613.1 L306.8 613.1 L308.3 613.1 L309.8 613.1 L311.3 613.1 L312.8 613.1 L314.3 613.1 L315.8 613.1 L317.3 613.1 L318.8 613.1 L320.3 613.1 L321.8 613.1 L323.3 613.1 L324.8 613.1 L326.3 613.1 L327.8 613.1 L329.3 613.1 L330.8 613.1 L332.3 613.1 L333.8 613.1 L335.3 613.1 L336.8 613.1 L338.3 613.1 L339.8 613.1 L341.3 613.1 L342.7 613.1 L344.2 613.1 L345.7 613.1 L347.2 613.1 L348.7 613.1 L348.7 613.1 L347.2 613.1 L345.7 613.1 L344.2 613.1 L342.7 613.1 L341.3 613.1 L339.8 613.1 L338.3 613.1 L336.8 613.1 L335.3 613.1 L333.8 613.1 L332.3 613.1 L330.8 613.1 L329.3 613.1 L327.8 613.1 L326.3 613.1 L324.8 613.1 L323.3 613.1 L321.8 613.1 L320.3 613.1 L318.8 613.1 L317.3 613.1 L315.8 613.1 L314.3 613.1 L312.8 613.1 L311.3 613.1 L309.8 613.1 L308.3 613.1 L306.8 613.1 L305.3 613.1 L303.8 613.1 L302.3 613.1 L300.8 613.1 L299.4 613.1 L297.9 613.1 L296.4 613.1 L294.9 613.1 L293.4 613.1 L291.9 613.1 L290.4 613.1 L288.9 613.1 L287.4 613.1 L285.9 613.1 L284.4 613.1 L282.9 613.1 L281.4 613.0 L279.9 613.0 L278.4 613.0 L276.9 613.0 L275.4 613.0 L273.9 613.0 L272.4 613.0 L270.9 613.0 L269.4 613.0 L267.9 613.0 L266.4 613.0 L264.9 613.0 L263.4 613.0 L261.9 613.0 L260.4 613.0 L258.9 613.0 L257.4 613.0 L256.0 613.0 L254.5 613.0 L253.0 613.0 L251.5 613.0 L250.0 613.0 L248.5 613.0 L247.0 613.0 L245.5 612.9 L244.0 612.9 L242.5 612.9 L241.0 612.9 L239.5 612.9 L238.0 612.9 L236.5 612.9 L235.0 612.9 L233.5 612.9 L232.0 612.9 L230.5 612.9 L229.0 612.9 L227.5 612.9 L226.0 612.9 L224.5 612.9 L223.0 612.8 L221.5 612.8 L220.0 612.8 L218.5 612.8 L217.0 612.8 L215.5 612.8 L214.1 612.8 L212.6 612.7 L211.1 612.6 L209.6 612.4 L208.1 612.2 L206.6 612.0 L205.1 611.7 L203.6 611.3 L202.1 610.8 L200.6 610.3 L199.1 609.7 L197.6 609.0 L196.1 608.2 L194.6 607.2 L193.1 605.9 L191.6 604.4 L190.1 602.5 L188.6 600.4 L187.1 597.9 L185.6 595.2 L184.1 592.0 L182.6 588.2 L181.1 584.2 L179.6 579.7 L178.1 574.9 L176.6 569.7 L175.1 564.1 L173.6 558.3 L172.1 552.6 L170.7 547.0 L169.2 541.2 L167.7 535.2 L166.2 528.0 L164.7 519.6 L163.2 511.9 L161.7 504.6 L160.2 497.8 L158.7 491.5 L157.2 485.5 L155.7 479.7 L154.2 474.3 L152.7 469.3 L151.2 465.8 L149.7 463.2 L148.2 462.1 L146.7 462.3 L145.2 463.2 L143.7 464.7 L142.2 466.6 L140.7 469.1 L139.2 472.0 L137.7 475.4 L136.2 479.5 L134.7 484.5 L133.2 490.0 L131.7 496.2 L130.2 502.8 L128.7 510.0 L127.3 517.0 L125.8 523.9 L124.3 531.0 L122.8 538.1 L121.3 545.6 L119.8 553.4 L118.3 561.7 L116.8 570.3 L115.3 576.0 L113.8 580.0 L112.3 583.7 L110.8 586.9 L109.3 589.9 L107.8 592.6 L106.3 595.2 L104.8 597.6 L103.3 599.9 L101.8 602.0 L100.3 603.8 L98.8 605.3 L97.3 606.6 L95.8 607.8 L94.3 608.8 L92.8 609.8 L91.3 610.5 L89.8 611.1 L88.3 611.6 L86.8 612.0 L85.4 612.4 L83.9 612.7 L82.4 612.9 L80.9 613.1 L79.4 613.1Z" fill="#CDECCD"/>
<path d="M79.4 613.0 L80.9 612.9 L82.4 612.8 L83.9 612.7 L85.4 612.6 L86.8 612.5 L88.3 612.4 L89.8 612.3 L91.3 612.2 L92.8 612.0 L94.3 611.9 L95.8 611.7 L97.3 611.4 L98.8 611.2 L100.3 610.8 L101.8 610.4 L103.3 610.0 L104.8 609.4 L106.3 608.7 L107.8 607.8 L109.3 606.8 L110.8 605.7 L112.3 604.6 L113.8 603.5 L115.3 602.4 L116.8 601.4 L118.3 600.5 L119.8 599.6 L121.3 598.8 L122.8 597.9 L124.3 597.1 L125.8 596.3 L127.3 595.6 L128.7 594.9 L130.2 594.3 L131.7 593.7 L133.2 593.3 L134.7 592.9 L136.2 592.7 L137.7 592.5 L139.2 592.4 L140.7 592.4 L142.2 592.4 L143.7 592.5 L145.2 592.6 L146.7 592.8 L148.2 593.1 L149.7 593.3 L151.2 593.7 L152.7 594.2 L154.2 594.7 L155.7 595.3 L157.2 595.9 L158.7 596.6 L160.2 597.2 L161.7 597.8 L163.2 598.6 L164.7 599.4 L166.2 600.3 L167.7 601.2 L169.2 602.2 L170.7 603.1 L172.1 603.9 L173.6 604.7 L175.1 605.4 L176.6 606.0 L178.1 606.6 L179.6 607.2 L181.1 607.6 L182.6 608.0 L184.1 608.3 L185.6 608.7 L187.1 609.0 L188.6 609.4 L190.1 609.7 L191.6 610.0 L193.1 610.3 L194.6 610.6 L196.1 610.9 L197.6 611.1 L199.1 611.3 L200.6 611.5 L202.1 611.7 L203.6 611.8 L205.1 612.0 L206.6 612.1 L208.1 612.2 L209.6 612.3 L211.1 612.4 L212.6 612.5 L214.1 612.6 L215.5 612.6 L217.0 612.7 L218.5 612.7 L220.0 612.8 L221.5 612.8 L223.0 612.8 L224.5 612.8 L226.0 612.9 L227.5 612.9 L229.0 612.9 L230.5 612.9 L232.0 612.9 L233.5 612.9 L235.0 612.9 L236.5 612.9 L238.0 612.9 L239.5 612.9 L241.0 612.9 L242.5 612.9 L244.0 612.9 L245.5 612.9 L247.0 612.9 L248.5 612.9 L250.0 613.0 L251.5 613.0 L253.0 613.0 L254.5 613.0 L256.0 613.0 L257.4 613.0 L258.9 613.0 L260.4 613.0 L261.9 613.0 L263.4 613.0 L264.9 613.0 L266.4 613.0 L267.9 613.0 L269.4 613.0 L270.9 613.0 L272.4 613.0 L273.9 613.0 L275.4 613.0 L276.9 613.0 L278.4 613.0 L279.9 613.0 L281.4 613.0 L282.9 613.0 L284.4 613.0 L285.9 613.0 L287.4 613.1 L288.9 613.1 L290.4 613.1 L291.9 613.1 L293.4 613.1 L294.9 613.1 L296.4 613.1 L297.9 613.1 L299.4 613.1 L300.8 613.1 L302.3 613.1 L303.8 613.1 L305.3 613.1 L306.8 613.1 L308.3 613.1 L309.8 613.1 L311.3 613.1 L312.8 613.1 L314.3 613.1 L315.8 613.1 L317.3 613.1 L318.8 613.1 L320.3 613.1 L321.8 613.1 L323.3 613.1 L324.8 613.1 L326.3 613.1 L327.8 613.1 L329.3 613.1 L330.8 613.1 L332.3 613.1 L333.8 613.1 L335.3 613.1 L336.8 613.1 L338.3 613.1 L339.8 613.1 L341.3 613.1 L342.7 613.1 L344.2 613.1 L345.7 613.1 L347.2 613.1 L348.7 613.1 L348.7 613.1 L347.2 613.1 L345.7 613.1 L344.2 613.1 L342.7 613.1 L341.3 613.1 L339.8 613.1 L338.3 613.1 L336.8 613.1 L335.3 613.1 L333.8 613.1 L332.3 613.1 L330.8 613.1 L329.3 613.1 L327.8 613.1 L326.3 613.1 L324.8 613.1 L323.3 613.1 L321.8 613.1 L320.3 613.1 L318.8 613.1 L317.3 613.1 L315.8 613.1 L314.3 613.1 L312.8 613.1 L311.3 613.1 L309.8 613.1 L308.3 613.1 L306.8 613.1 L305.3 613.1 L303.8 613.1 L302.3 613.1 L300.8 613.1 L299.4 613.1 L297.9 613.1 L296.4 613.1 L294.9 613.1 L293.4 613.1 L291.9 613.1 L290.4 613.1 L288.9 613.1 L287.4 613.1 L285.9 613.1 L284.4 613.1 L282.9 613.1 L281.4 613.1 L279.9 613.0 L278.4 613.0 L276.9 613.0 L275.4 613.0 L273.9 613.0 L272.4 613.0 L270.9 613.0 L269.4 613.0 L267.9 613.0 L266.4 613.0 L264.9 613.0 L263.4 613.0 L261.9 613.0 L260.4 613.0 L258.9 613.0 L257.4 613.0 L256.0 613.0 L254.5 613.0 L253.0 613.0 L251.5 613.0 L250.0 613.0 L248.5 613.0 L247.0 613.0 L245.5 613.0 L244.0 613.0 L242.5 613.0 L241.0 613.0 L239.5 612.9 L238.0 612.9 L236.5 612.9 L235.0 612.9 L233.5 612.9 L232.0 612.9 L230.5 612.9 L229.0 612.9 L227.5 612.9 L226.0 612.9 L224.5 612.9 L223.0 612.9 L221.5 612.8 L220.0 612.8 L218.5 612.7 L217.0 612.7 L215.5 612.7 L214.1 612.6 L212.6 612.5 L211.1 612.5 L209.6 612.4 L208.1 612.3 L206.6 612.2 L205.1 612.1 L203.6 611.9 L202.1 611.8 L200.6 611.6 L199.1 611.5 L197.6 611.3 L196.1 611.1 L194.6 610.9 L193.1 610.6 L191.6 610.4 L190.1 610.1 L188.6 609.8 L187.1 609.6 L185.6 609.3 L184.1 609.0 L182.6 608.7 L181.1 608.3 L179.6 607.9 L178.1 607.5 L176.6 607.0 L175.1 606.4 L173.6 605.7 L172.1 605.1 L170.7 604.3 L169.2 603.6 L167.7 602.9 L166.2 602.2 L164.7 601.6 L163.2 601.1 L161.7 600.6 L160.2 600.1 L158.7 599.6 L157.2 599.1 L155.7 598.7 L154.2 598.3 L152.7 597.9 L151.2 597.7 L149.7 597.5 L148.2 597.3 L146.7 597.2 L145.2 597.1 L143.7 597.0 L142.2 597.1 L140.7 597.1 L139.2 597.2 L137.7 597.3 L136.2 597.5 L134.7 597.9 L133.2 598.2 L131.7 598.7 L130.2 599.2 L128.7 599.7 L127.3 600.3 L125.8 601.0 L124.3 601.6 L122.8 602.2 L121.3 602.9 L119.8 603.6 L118.3 604.4 L116.8 605.1 L115.3 606.0 L113.8 606.8 L112.3 607.7 L110.8 608.6 L109.3 609.3 L107.8 609.9 L106.3 610.4 L104.8 610.8 L103.3 611.2 L101.8 611.4 L100.3 611.7 L98.8 611.9 L97.3 612.1 L95.8 612.2 L94.3 612.3 L92.8 612.4 L91.3 612.5 L89.8 612.6 L88.3 612.7 L86.8 612.7 L85.4 612.8 L83.9 612.9 L82.4 613.0 L80.9 613.0 L79.4 613.1Z" fill="#CDECCD"/>
<path d="M116.2 606.1 L119.2 609.8 L122.2 607.0 L125.2 607.0 L128.2 607.6 L131.1 563.2 L134.1 599.1 L137.1 587.3 L140.1 573.6 L143.1 569.9 L146.1 581.5 L149.1 595.2 L152.1 535.9 L155.1 541.7 L158.1 543.2 L161.1 467.2 L164.1 527.1 L167.1 592.1 L170.1 606.7 L173.0 605.5 L176.0 611.0 L179.0 610.7 L182.0 610.1 L185.0 608.5 L188.0 612.2 L191.0 602.5 L194.0 606.7 L197.0 609.8 L200.0 611.9 L203.0 602.8 L206.0 610.1 L209.0 612.2 L212.0 612.2 L214.9 610.7 L217.9 612.5 L220.9 612.5 L223.9 612.2 L226.9 611.3 L229.9 609.3 L232.9 612.2 L235.9 611.6 L238.9 611.9 L241.9 611.6 L244.9 611.9 L247.9 612.2 L250.9 612.5 L253.9 612.2 L256.9 612.5 L259.8 612.2 L262.8 612.5 L265.8 612.5 L268.8 612.2 L271.8 612.5 L274.8 612.5 L277.8 612.2 L280.8 611.9 L283.8 610.4 L286.8 612.2 L289.8 612.5 L292.8 611.0 L295.8 611.9 L298.8 612.5 L301.7 612.2 L304.7 612.5 L307.7 612.5 L310.7 612.2 L313.7 612.5 L316.7 612.2 L319.7 608.2 L322.7 612.5 L325.7 610.1 L328.7 610.1 L331.7 612.8 L334.7 612.2 L337.7 611.9 L340.7 611.9 L343.6 611.9 L346.6 612.2" fill="none" stroke="#8e8e8e" stroke-width="1" stroke-linejoin="round"/>
<circle cx="116.2" cy="606.1" r="1.8" fill="#8e8e8e"/>
<circle cx="119.2" cy="609.8" r="1.8" fill="#8e8e8e"/>
<circle cx="122.2" cy="607.0" r="1.8" fill="#8e8e8e"/>
<circle cx="125.2" cy="607.0" r="1.8" fill="#8e8e8e"/>
<circle cx="128.2" cy="607.6" r="1.8" fill="#8e8e8e"/>
<circle cx="131.1" cy="563.2" r="1.8" fill="#8e8e8e"/>
<circle cx="134.1" cy="599.1" r="1.8" fill="#8e8e8e"/>
<circle cx="137.1" cy="587.3" r="1.8" fill="#8e8e8e"/>
<circle cx="140.1" cy="573.6" r="1.8" fill="#8e8e8e"/>
<circle cx="143.1" cy="569.9" r="1.8" fill="#8e8e8e"/>
<circle cx="146.1" cy="581.5" r="1.8" fill="#8e8e8e"/>
<circle cx="149.1" cy="595.2" r="1.8" fill="#8e8e8e"/>
<circle cx="152.1" cy="535.9" r="1.8" fill="#8e8e8e"/>
<circle cx="155.1" cy="541.7" r="1.8" fill="#8e8e8e"/>
<circle cx="158.1" cy="543.2" r="1.8" fill="#8e8e8e"/>
<circle cx="161.1" cy="467.2" r="1.8" fill="#8e8e8e"/>
<circle cx="164.1" cy="527.1" r="1.8" fill="#8e8e8e"/>
<circle cx="167.1" cy="592.1" r="1.8" fill="#8e8e8e"/>
<circle cx="170.1" cy="606.7" r="1.8" fill="#8e8e8e"/>
<circle cx="173.0" cy="605.5" r="1.8" fill="#8e8e8e"/>
<circle cx="176.0" cy="611.0" r="1.8" fill="#8e8e8e"/>
<circle cx="179.0" cy="610.7" r="1.8" fill="#8e8e8e"/>
<circle cx="182.0" cy="610.1" r="1.8" fill="#8e8e8e"/>
<circle cx="185.0" cy="608.5" r="1.8" fill="#8e8e8e"/>
<circle cx="188.0" cy="612.2" r="1.8" fill="#8e8e8e"/>
<circle cx="191.0" cy="602.5" r="1.8" fill="#8e8e8e"/>
<circle cx="194.0" cy="606.7" r="1.8" fill="#8e8e8e"/>
<circle cx="197.0" cy="609.8" r="1.8" fill="#8e8e8e"/>
<circle cx="200.0" cy="611.9" r="1.8" fill="#8e8e8e"/>
<circle cx="203.0" cy="602.8" r="1.8" fill="#8e8e8e"/>
<circle cx="206.0" cy="610.1" r="1.8" fill="#8e8e8e"/>
<circle cx="209.0" cy="612.2" r="1.8" fill="#8e8e8e"/>
<circle cx="212.0" cy="612.2" r="1.8" fill="#8e8e8e"/>
<circle cx="214.9" cy="610.7" r="1.8" fill="#8e8e8e"/>
<circle cx="217.9" cy="612.5" r="1.8" fill="#8e8e8e"/>
<circle cx="220.9" cy="612.5" r="1.8" fill="#8e8e8e"/>
<circle cx="223.9" cy="612.2" r="1.8" fill="#8e8e8e"/>
<circle cx="226.9" cy="611.3" r="1.8" fill="#8e8e8e"/>
<circle cx="229.9" cy="609.3" r="1.8" fill="#8e8e8e"/>
<circle cx="232.9" cy="612.2" r="1.8" fill="#8e8e8e"/>
<circle cx="235.9" cy="611.6" r="1.8" fill="#8e8e8e"/>
<circle cx="238.9" cy="611.9" r="1.8" fill="#8e8e8e"/>
<circle cx="241.9" cy="611.6" r="1.8" fill="#8e8e8e"/>
<circle cx="244.9" cy="611.9" r="1.8" fill="#8e8e8e"/>
<circle cx="247.9" cy="612.2" r="1.8" fill="#8e8e8e"/>
<circle cx="250.9" cy="612.5" r="1.8" fill="#8e8e8e"/>
<circle cx="253.9" cy="612.2" r="1.8" fill="#8e8e8e"/>
<circle cx="256.9" cy="612.5" r="1.8" fill="#8e8e8e"/>
<circle cx="259.8" cy="612.2" r="1.8" fill="#8e8e8e"/>
<circle cx="262.8" cy="612.5" r="1.8" fill="#8e8e8e"/>
<circle cx="265.8" cy="612.5" r="1.8" fill="#8e8e8e"/>
<circle cx="268.8" cy="612.2" r="1.8" fill="#8e8e8e"/>
<circle cx="271.8" cy="612.5" r="1.8" fill="#8e8e8e"/>
<circle cx="274.8" cy="612.5" r="1.8" fill="#8e8e8e"/>
<circle cx="277.8" cy="612.2" r="1.8" fill="#8e8e8e"/>
<circle cx="280.8" cy="611.9" r="1.8" fill="#8e8e8e"/>
<circle cx="283.8" cy="610.4" r="1.8" fill="#8e8e8e"/>
<circle cx="286.8" cy="612.2" r="1.8" fill="#8e8e8e"/>
<circle cx="289.8" cy="612.5" r="1.8" fill="#8e8e8e"/>
<circle cx="292.8" cy="611.0" r="1.8" fill="#8e8e8e"/>
<circle cx="295.8" cy="611.9" r="1.8" fill="#8e8e8e"/>
<circle cx="298.8" cy="612.5" r="1.8" fill="#8e8e8e"/>
<circle cx="301.7" cy="612.2" r="1.8" fill="#8e8e8e"/>
<circle cx="304.7" cy="612.5" r="1.8" fill="#8e8e8e"/>
<circle cx="307.7" cy="612.5" r="1.8" fill="#8e8e8e"/>
<circle cx="310.7" cy="612.2" r="1.8" fill="#8e8e8e"/>
<circle cx="313.7" cy="612.5" r="1.8" fill="#8e8e8e"/>
<circle cx="316.7" cy="612.2" r="1.8" fill="#8e8e8e"/>
<circle cx="319.7" cy="608.2" r="1.8" fill="#8e8e8e"/>
<circle cx="322.7" cy="612.5" r="1.8" fill="#8e8e8e"/>
<circle cx="325.7" cy="610.1" r="1.8" fill="#8e8e8e"/>
<circle cx="328.7" cy="610.1" r="1.8" fill="#8e8e8e"/>
<circle cx="331.7" cy="612.8" r="1.8" fill="#8e8e8e"/>
<circle cx="334.7" cy="612.2" r="1.8" fill="#8e8e8e"/>
<circle cx="337.7" cy="611.9" r="1.8" fill="#8e8e8e"/>
<circle cx="340.7" cy="611.9" r="1.8" fill="#8e8e8e"/>
<circle cx="343.6" cy="611.9" r="1.8" fill="#8e8e8e"/>
<circle cx="346.6" cy="612.2" r="1.8" fill="#8e8e8e"/>
<path d="M80.3 612.8 L83.3 612.5 L86.2 612.2 L89.2 611.0 L92.2 611.9 L95.2 612.2 L98.2 612.2 L101.2 611.3 L104.2 609.8 L107.2 607.9 L110.2 605.5 L113.2 607.9" fill="none" stroke="#000" stroke-width="1" stroke-linejoin="round"/>
<circle cx="80.3" cy="612.8" r="1.6" fill="#000"/>
<circle cx="83.3" cy="612.5" r="1.6" fill="#000"/>
<circle cx="86.2" cy="612.2" r="1.6" fill="#000"/>
<circle cx="89.2" cy="611.0" r="1.6" fill="#000"/>
<circle cx="92.2" cy="611.9" r="1.6" fill="#000"/>
<circle cx="95.2" cy="612.2" r="1.6" fill="#000"/>
<circle cx="98.2" cy="612.2" r="1.6" fill="#000"/>
<circle cx="101.2" cy="611.3" r="1.6" fill="#000"/>
<circle cx="104.2" cy="609.8" r="1.6" fill="#000"/>
<circle cx="107.2" cy="607.9" r="1.6" fill="#000"/>
<circle cx="110.2" cy="605.5" r="1.6" fill="#000"/>
<circle cx="113.2" cy="607.9" r="1.6" fill="#000"/>
<path d="M79.4 613.1 L80.9 612.7 L82.4 612.4 L83.9 612.0 L85.4 611.4 L86.8 610.7 L88.3 610.0 L89.8 609.1 L91.3 608.0 L92.8 606.9 L94.3 605.7 L95.8 604.3 L97.3 602.9 L98.8 601.1 L100.3 599.0 L101.8 596.6 L103.3 594.1 L104.8 591.3 L106.3 588.3 L107.8 585.0 L109.3 581.6 L110.8 576.9 L112.3 570.1 L113.8 562.7 L115.3 554.8 L116.8 546.5 L118.3 537.8 L119.8 529.1 L121.3 520.3 L122.8 511.9 L124.3 503.6 L125.8 495.6 L127.3 487.7 L128.7 479.9 L130.2 472.2 L131.7 464.9 L133.2 458.0 L134.7 452.3 L136.2 447.4 L137.7 444.2 L139.2 441.9 L140.7 440.7 L142.2 440.6 L143.7 441.4 L145.2 442.4 L146.7 443.9 L148.2 446.4 L149.7 449.1 L151.2 452.0 L152.7 455.0 L154.2 458.1 L155.7 461.7 L157.2 465.7 L158.7 470.4 L160.2 475.9 L161.7 481.6 L163.2 487.4 L164.7 493.2 L166.2 498.9 L167.7 504.9 L169.2 511.5 L170.7 517.6 L172.1 523.2 L173.6 528.6 L175.1 533.6 L176.6 538.4 L178.1 542.9 L179.6 547.5 L181.1 552.2 L182.6 556.9 L184.1 561.7 L185.6 566.2 L187.1 570.3 L188.6 574.2 L190.1 577.7 L191.6 580.9 L193.1 583.8 L194.6 586.5 L196.1 588.9 L197.6 591.2 L199.1 593.2 L200.6 594.9 L202.1 596.5 L203.6 597.8 L205.1 599.0 L206.6 600.2 L208.1 601.2 L209.6 602.3 L211.1 603.3 L212.6 604.2 L214.1 605.0 L215.5 605.8 L217.0 606.5 L218.5 607.1 L220.0 607.6 L221.5 608.1 L223.0 608.6 L224.5 609.0 L226.0 609.4 L227.5 609.7 L229.0 610.0 L230.5 610.3 L232.0 610.6 L233.5 610.8 L235.0 611.0 L236.5 611.2 L238.0 611.4 L239.5 611.6 L241.0 611.7 L242.5 611.9 L244.0 612.0 L245.5 612.1 L247.0 612.2 L248.5 612.3 L250.0 612.4 L251.5 612.4 L253.0 612.5 L254.5 612.6 L256.0 612.6 L257.4 612.7 L258.9 612.7 L260.4 612.7 L261.9 612.8 L263.4 612.8 L264.9 612.9 L266.4 612.9 L267.9 612.9 L269.4 612.9 L270.9 612.9 L272.4 613.0 L273.9 613.0 L275.4 613.0 L276.9 613.0 L278.4 613.0 L279.9 613.0 L281.4 613.0 L282.9 613.0 L284.4 613.0 L285.9 613.0 L287.4 613.0 L288.9 613.0 L290.4 613.0 L291.9 613.0 L293.4 613.0 L294.9 613.0 L296.4 613.0 L297.9 613.0 L299.4 613.0 L300.8 613.0 L302.3 613.0 L303.8 613.1 L305.3 613.1 L306.8 613.1 L308.3 613.1 L309.8 613.1 L311.3 613.1 L312.8 613.1 L314.3 613.1 L315.8 613.1 L317.3 613.1 L318.8 613.1 L320.3 613.1 L321.8 613.1 L323.3 613.1 L324.8 613.1 L326.3 613.1 L327.8 613.1 L329.3 613.1 L330.8 613.1 L332.3 613.1 L333.8 613.1 L335.3 613.1 L336.8 613.1 L338.3 613.1 L339.8 613.1 L341.3 613.1 L342.7 613.1 L344.2 613.1 L345.7 613.1 L347.2 613.1 L348.7 613.1" fill="none" stroke="#36A838" stroke-width="1.4" stroke-dasharray="5 4.6"/>
<path d="M79.4 613.1 L80.9 613.0 L82.4 612.9 L83.9 612.9 L85.4 612.8 L86.8 612.7 L88.3 612.6 L89.8 612.6 L91.3 612.5 L92.8 612.4 L94.3 612.3 L95.8 612.1 L97.3 612.0 L98.8 611.8 L100.3 611.6 L101.8 611.3 L103.3 611.0 L104.8 610.7 L106.3 610.2 L107.8 609.7 L109.3 609.0 L110.8 608.2 L112.3 607.3 L113.8 606.3 L115.3 605.4 L116.8 604.5 L118.3 603.7 L119.8 602.9 L121.3 602.1 L122.8 601.4 L124.3 600.7 L125.8 600.1 L127.3 599.4 L128.7 598.7 L130.2 598.1 L131.7 597.6 L133.2 597.1 L134.7 596.7 L136.2 596.4 L137.7 596.1 L139.2 596.0 L140.7 595.9 L142.2 595.8 L143.7 595.8 L145.2 595.9 L146.7 596.0 L148.2 596.1 L149.7 596.3 L151.2 596.5 L152.7 596.8 L154.2 597.2 L155.7 597.6 L157.2 598.1 L158.7 598.6 L160.2 599.1 L161.7 599.6 L163.2 600.1 L164.7 600.7 L166.2 601.4 L167.7 602.1 L169.2 602.9 L170.7 603.7 L172.1 604.4 L173.6 605.2 L175.1 605.9 L176.6 606.5 L178.1 607.0 L179.6 607.5 L181.1 608.0 L182.6 608.4 L184.1 608.7 L185.6 609.0 L187.1 609.3 L188.6 609.6 L190.1 609.9 L191.6 610.2 L193.1 610.5 L194.6 610.7 L196.1 610.9 L197.6 611.1 L199.1 611.3 L200.6 611.5 L202.1 611.7 L203.6 611.9 L205.1 612.0 L206.6 612.1 L208.1 612.2 L209.6 612.3 L211.1 612.4 L212.6 612.5 L214.1 612.6 L215.5 612.6 L217.0 612.7 L218.5 612.7 L220.0 612.8 L221.5 612.8 L223.0 612.8 L224.5 612.9 L226.0 612.9 L227.5 612.9 L229.0 612.9 L230.5 612.9 L232.0 612.9 L233.5 612.9 L235.0 612.9 L236.5 612.9 L238.0 612.9 L239.5 612.9 L241.0 612.9 L242.5 612.9 L244.0 613.0 L245.5 613.0 L247.0 613.0 L248.5 613.0 L250.0 613.0 L251.5 613.0 L253.0 613.0 L254.5 613.0 L256.0 613.0 L257.4 613.0 L258.9 613.0 L260.4 613.0 L261.9 613.0 L263.4 613.0 L264.9 613.0 L266.4 613.0 L267.9 613.0 L269.4 613.0 L270.9 613.0 L272.4 613.0 L273.9 613.0 L275.4 613.0 L276.9 613.0 L278.4 613.0 L279.9 613.0 L281.4 613.0 L282.9 613.0 L284.4 613.1 L285.9 613.1 L287.4 613.1 L288.9 613.1 L290.4 613.1 L291.9 613.1 L293.4 613.1 L294.9 613.1 L296.4 613.1 L297.9 613.1 L299.4 613.1 L300.8 613.1 L302.3 613.1 L303.8 613.1 L305.3 613.1 L306.8 613.1 L308.3 613.1 L309.8 613.1 L311.3 613.1 L312.8 613.1 L314.3 613.1 L315.8 613.1 L317.3 613.1 L318.8 613.1 L320.3 613.1 L321.8 613.1 L323.3 613.1 L324.8 613.1 L326.3 613.1 L327.8 613.1 L329.3 613.1 L330.8 613.1 L332.3 613.1 L333.8 613.1 L335.3 613.1 L336.8 613.1 L338.3 613.1 L339.8 613.1 L341.3 613.1 L342.7 613.1 L344.2 613.1 L345.7 613.1 L347.2 613.1 L348.7 613.1" fill="none" stroke="#3CB43C" stroke-width="1.3" stroke-linejoin="round"/>
</g>
<rect x="77.2" y="339.6" width="273.5" height="273.5" fill="none" stroke="#1a1a1a" stroke-width="1.4"/>
<line x1="66.6" y1="613.1" x2="77.2" y2="613.1" stroke="#1a1a1a" stroke-width="1.4"/>
<text x="57.1" y="619.8" text-anchor="end" font-family="Liberation Sans, Arial, sans-serif" font-size="15.7" letter-spacing="0.2" fill="#000" stroke="#000" stroke-width="0.2">0</text>
<line x1="66.6" y1="582.7" x2="77.2" y2="582.7" stroke="#1a1a1a" stroke-width="1.4"/>
<text x="57.1" y="589.4" text-anchor="end" font-family="Liberation Sans, Arial, sans-serif" font-size="15.7" letter-spacing="0.2" fill="#000" stroke="#000" stroke-width="0.2">100</text>
<line x1="66.6" y1="552.3" x2="77.2" y2="552.3" stroke="#1a1a1a" stroke-width="1.4"/>
<text x="57.1" y="559.0" text-anchor="end" font-family="Liberation Sans, Arial, sans-serif" font-size="15.7" letter-spacing="0.2" fill="#000" stroke="#000" stroke-width="0.2">200</text>
<line x1="66.6" y1="521.9" x2="77.2" y2="521.9" stroke="#1a1a1a" stroke-width="1.4"/>
<text x="57.1" y="528.6" text-anchor="end" font-family="Liberation Sans, Arial, sans-serif" font-size="15.7" letter-spacing="0.2" fill="#000" stroke="#000" stroke-width="0.2">300</text>
<line x1="66.6" y1="491.5" x2="77.2" y2="491.5" stroke="#1a1a1a" stroke-width="1.4"/>
<text x="57.1" y="498.2" text-anchor="end" font-family="Liberation Sans, Arial, sans-serif" font-size="15.7" letter-spacing="0.2" fill="#000" stroke="#000" stroke-width="0.2">400</text>
<line x1="66.6" y1="461.1" x2="77.2" y2="461.1" stroke="#1a1a1a" stroke-width="1.4"/>
<text x="57.1" y="467.8" text-anchor="end" font-family="Liberation Sans, Arial, sans-serif" font-size="15.7" letter-spacing="0.2" fill="#000" stroke="#000" stroke-width="0.2">500</text>
<line x1="66.6" y1="430.7" x2="77.2" y2="430.7" stroke="#1a1a1a" stroke-width="1.4"/>
<text x="57.1" y="437.4" text-anchor="end" font-family="Liberation Sans, Arial, sans-serif" font-size="15.7" letter-spacing="0.2" fill="#000" stroke="#000" stroke-width="0.2">600</text>
<line x1="66.6" y1="400.3" x2="77.2" y2="400.3" stroke="#1a1a1a" stroke-width="1.4"/>
<text x="57.1" y="407.0" text-anchor="end" font-family="Liberation Sans, Arial, sans-serif" font-size="15.7" letter-spacing="0.2" fill="#000" stroke="#000" stroke-width="0.2">700</text>
<line x1="66.6" y1="369.9" x2="77.2" y2="369.9" stroke="#1a1a1a" stroke-width="1.4"/>
<text x="57.1" y="376.6" text-anchor="end" font-family="Liberation Sans, Arial, sans-serif" font-size="15.7" letter-spacing="0.2" fill="#000" stroke="#000" stroke-width="0.2">800</text>
<line x1="66.6" y1="339.5" x2="77.2" y2="339.5" stroke="#1a1a1a" stroke-width="1.4"/>
<text x="57.1" y="346.2" text-anchor="end" font-family="Liberation Sans, Arial, sans-serif" font-size="15.7" letter-spacing="0.2" fill="#000" stroke="#000" stroke-width="0.2">900</text>
<line x1="107.2" y1="613.1" x2="107.2" y2="623.5" stroke="#1a1a1a" stroke-width="1.4"/>
<text x="107.0" y="649.2" text-anchor="middle" font-family="Liberation Sans, Arial, sans-serif" font-size="15.7" letter-spacing="0.2" fill="#000" stroke="#000" stroke-width="0.2">Apr 1</text>
<line x1="149.1" y1="613.1" x2="149.1" y2="623.5" stroke="#1a1a1a" stroke-width="1.4"/>
<text x="148.9" y="649.2" text-anchor="middle" font-family="Liberation Sans, Arial, sans-serif" font-size="15.7" letter-spacing="0.2" fill="#000" stroke="#000" stroke-width="0.2">15</text>
<line x1="197.0" y1="613.1" x2="197.0" y2="623.5" stroke="#1a1a1a" stroke-width="1.4"/>
<text x="196.8" y="649.2" text-anchor="middle" font-family="Liberation Sans, Arial, sans-serif" font-size="15.7" letter-spacing="0.2" fill="#000" stroke="#000" stroke-width="0.2">May 1</text>
<line x1="238.9" y1="613.1" x2="238.9" y2="623.5" stroke="#1a1a1a" stroke-width="1.4"/>
<text x="238.7" y="649.2" text-anchor="middle" font-family="Liberation Sans, Arial, sans-serif" font-size="15.7" letter-spacing="0.2" fill="#000" stroke="#000" stroke-width="0.2">15</text>
<line x1="289.8" y1="613.1" x2="289.8" y2="623.5" stroke="#1a1a1a" stroke-width="1.4"/>
<text x="289.6" y="649.2" text-anchor="middle" font-family="Liberation Sans, Arial, sans-serif" font-size="15.7" letter-spacing="0.2" fill="#000" stroke="#000" stroke-width="0.2">Jun 1</text>
<line x1="331.7" y1="613.1" x2="331.7" y2="623.5" stroke="#1a1a1a" stroke-width="1.4"/>
<text x="331.5" y="649.2" text-anchor="middle" font-family="Liberation Sans, Arial, sans-serif" font-size="15.7" letter-spacing="0.2" fill="#000" stroke="#000" stroke-width="0.2">15</text>
<text x="86.5" y="366.1" font-family="Liberation Sans, Arial, sans-serif" font-size="15.7" letter-spacing="0.2" fill="#000" stroke="#000" stroke-width="0.2">(c)</text>
<text transform="translate(13.8 475.9) rotate(-90)" text-anchor="middle" font-family="Liberation Sans, Arial, sans-serif" font-size="15.7" letter-spacing="0.2" fill="#000" stroke="#000" stroke-width="0.2" style="letter-spacing:0.4px">Incidence</text>
<text x="213.4" y="679.4" text-anchor="middle" font-family="Liberation Sans, Arial, sans-serif" font-size="15.7" letter-spacing="0.2" fill="#000" stroke="#000" stroke-width="0.2">Day</text>
</g>
<g id="panel-d">
<clipPath id="clip-d"><rect x="410.3" y="339.6" width="273.2" height="273.5"/></clipPath>
<g clip-path="url(#clip-d)">
<path d="M413.4 613.0 L416.4 611.7 L419.3 611.0 L422.3 609.0 L425.3 606.0 L428.3 603.5 L431.3 599.0 L434.3 595.7 L437.3 589.6 L440.3 582.5 L443.3 573.6 L446.3 562.0 L449.3 550.5 L452.3 536.0 L455.3 511.7 L458.3 493.0 L461.3 486.7 L464.2 477.9 L467.2 470.0 L470.2 462.9 L473.2 452.5 L476.2 447.9 L479.2 441.8 L482.2 433.3 L485.2 453.6 L488.2 477.7 L491.2 498.8 L494.2 516.3 L497.2 532.9 L500.2 545.4 L503.2 557.4 L506.1 563.1 L509.1 571.9 L512.1 577.2 L515.1 581.3 L518.1 581.1 L521.1 587.2 L524.1 592.4 L527.1 594.2 L530.1 597.0 L533.1 598.4 L536.1 601.1 L539.1 601.0 L542.1 602.9 L545.1 604.4 L548.0 605.5 L551.0 607.2 L554.0 607.0 L557.0 609.3 L560.0 608.8 L563.0 610.0 L566.0 610.5 L569.0 610.5 L572.0 611.0 L575.0 611.4 L578.0 612.1 L581.0 612.2 L584.0 611.7 L587.0 612.1 L590.0 612.1 L592.9 612.0 L595.9 612.4 L598.9 612.9 L601.9 612.8 L604.9 612.6 L607.9 612.9 L610.9 612.5 L613.9 612.5 L616.9 612.6 L619.9 612.8 L622.9 612.6 L625.9 613.0 L628.9 612.9 L631.9 612.9 L634.8 612.7 L637.8 612.9 L640.8 613.1 L643.8 613.0 L646.8 613.0 L649.8 613.0 L652.8 613.1 L655.8 613.0 L658.8 612.9 L661.8 612.8 L664.8 612.8 L667.8 612.9 L670.8 613.0 L673.8 612.8 L676.7 612.8 L679.7 612.9 L679.7 613.1 L676.7 613.1 L673.8 613.1 L670.8 613.1 L667.8 613.1 L664.8 613.1 L661.8 613.1 L658.8 613.1 L655.8 613.1 L652.8 613.1 L649.8 613.1 L646.8 613.1 L643.8 613.1 L640.8 613.1 L637.8 613.1 L634.8 613.1 L631.9 613.1 L628.9 613.0 L625.9 613.0 L622.9 613.0 L619.9 613.1 L616.9 613.0 L613.9 613.1 L610.9 613.1 L607.9 613.0 L604.9 613.1 L601.9 613.0 L598.9 613.0 L595.9 613.0 L592.9 613.0 L590.0 613.0 L587.0 612.9 L584.0 612.9 L581.0 612.9 L578.0 613.0 L575.0 613.0 L572.0 613.0 L569.0 612.9 L566.0 613.0 L563.0 612.9 L560.0 612.8 L557.0 612.8 L554.0 612.7 L551.0 612.5 L548.0 612.1 L545.1 611.9 L542.1 611.4 L539.1 610.6 L536.1 609.2 L533.1 607.7 L530.1 605.9 L527.1 603.6 L524.1 600.8 L521.1 597.6 L518.1 595.8 L515.1 591.8 L512.1 587.2 L509.1 583.3 L506.1 580.3 L503.2 575.6 L500.2 571.4 L497.2 568.5 L494.2 564.4 L491.2 559.8 L488.2 553.2 L485.2 549.7 L482.2 547.2 L479.2 542.5 L476.2 538.9 L473.2 543.0 L470.2 546.3 L467.2 550.9 L464.2 553.9 L461.3 561.6 L458.3 566.5 L455.3 573.5 L452.3 581.1 L449.3 585.5 L446.3 590.6 L443.3 595.7 L440.3 598.2 L437.3 602.5 L434.3 605.6 L431.3 608.7 L428.3 610.0 L425.3 611.5 L422.3 612.4 L419.3 612.8 L416.4 613.0 L413.4 613.1Z" fill="#FEE9E2"/>
<path d="M413.4 613.0 L416.4 612.7 L419.3 612.6 L422.3 612.4 L425.3 612.2 L428.3 611.9 L431.3 611.5 L434.3 611.0 L437.3 610.5 L440.3 609.8 L443.3 609.2 L446.3 608.4 L449.3 607.5 L452.3 606.5 L455.3 605.7 L458.3 604.7 L461.3 603.6 L464.2 602.6 L467.2 601.6 L470.2 600.9 L473.2 600.1 L476.2 599.6 L479.2 599.2 L482.2 598.7 L485.2 599.5 L488.2 600.8 L491.2 601.9 L494.2 603.0 L497.2 604.4 L500.2 605.6 L503.2 606.6 L506.1 607.7 L509.1 608.7 L512.1 609.4 L515.1 610.2 L518.1 610.8 L521.1 611.1 L524.1 611.4 L527.1 611.7 L530.1 612.0 L533.1 612.2 L536.1 612.3 L539.1 612.4 L542.1 612.4 L545.1 612.5 L548.0 612.5 L551.0 612.5 L554.0 612.6 L557.0 612.6 L560.0 612.6 L563.0 612.7 L566.0 612.7 L569.0 612.7 L572.0 612.8 L575.0 612.8 L578.0 612.9 L581.0 612.9 L584.0 612.9 L587.0 612.9 L590.0 612.9 L592.9 612.9 L595.9 612.9 L598.9 612.9 L601.9 612.9 L604.9 612.9 L607.9 612.9 L610.9 613.0 L613.9 613.0 L616.9 613.0 L619.9 613.0 L622.9 613.0 L625.9 613.0 L628.9 613.0 L631.9 613.0 L634.8 613.0 L637.8 613.0 L640.8 613.0 L643.8 613.0 L646.8 613.1 L649.8 613.1 L652.8 613.1 L655.8 613.1 L658.8 613.1 L661.8 613.1 L664.8 613.1 L667.8 613.1 L670.8 613.1 L673.8 613.1 L676.7 613.1 L679.7 613.1 L679.7 613.1 L676.7 613.1 L673.8 613.1 L670.8 613.1 L667.8 613.1 L664.8 613.1 L661.8 613.1 L658.8 613.1 L655.8 613.1 L652.8 613.1 L649.8 613.1 L646.8 613.1 L643.8 613.1 L640.8 613.1 L637.8 613.1 L634.8 613.1 L631.9 613.1 L628.9 613.1 L625.9 613.0 L622.9 613.0 L619.9 613.0 L616.9 613.0 L613.9 613.0 L610.9 613.0 L607.9 613.0 L604.9 613.0 L601.9 613.0 L598.9 613.0 L595.9 613.0 L592.9 613.0 L590.0 613.0 L587.0 613.0 L584.0 613.0 L581.0 612.9 L578.0 612.9 L575.0 612.9 L572.0 612.9 L569.0 612.9 L566.0 612.9 L563.0 612.9 L560.0 612.9 L557.0 612.8 L554.0 612.8 L551.0 612.8 L548.0 612.8 L545.1 612.7 L542.1 612.7 L539.1 612.7 L536.1 612.6 L533.1 612.6 L530.1 612.6 L527.1 612.5 L524.1 612.3 L521.1 612.1 L518.1 611.9 L515.1 611.7 L512.1 611.4 L509.1 610.9 L506.1 610.5 L503.2 609.9 L500.2 609.2 L497.2 608.5 L494.2 607.9 L491.2 606.9 L488.2 606.2 L485.2 605.3 L482.2 604.8 L479.2 603.6 L476.2 603.8 L473.2 604.2 L470.2 604.4 L467.2 604.8 L464.2 605.3 L461.3 605.8 L458.3 606.6 L455.3 607.2 L452.3 608.0 L449.3 608.5 L446.3 609.1 L443.3 609.8 L440.3 610.3 L437.3 610.9 L434.3 611.4 L431.3 611.7 L428.3 612.1 L425.3 612.3 L422.3 612.5 L419.3 612.7 L416.4 612.8 L413.4 613.0Z" fill="#FEE9E2"/>
<path d="M449.3 606.1 L452.3 609.8 L455.3 607.0 L458.3 607.0 L461.3 607.6 L464.2 563.2 L467.2 599.1 L470.2 587.3 L473.2 573.6 L476.2 569.9 L479.2 581.5 L482.2 595.2 L485.2 535.9 L488.2 541.7 L491.2 543.2 L494.2 467.2 L497.2 527.1 L500.2 592.1 L503.2 606.7 L506.1 605.5 L509.1 611.0 L512.1 610.7 L515.1 610.1 L518.1 608.5 L521.1 612.2 L524.1 602.5 L527.1 606.7 L530.1 609.8 L533.1 611.9 L536.1 602.8 L539.1 610.1 L542.1 612.2 L545.1 612.2 L548.0 610.7 L551.0 612.5 L554.0 612.5 L557.0 612.2 L560.0 611.3 L563.0 609.3 L566.0 612.2 L569.0 611.6 L572.0 611.9 L575.0 611.6 L578.0 611.9 L581.0 612.2 L584.0 612.5 L587.0 612.2 L590.0 612.5 L592.9 612.2 L595.9 612.5 L598.9 612.5 L601.9 612.2 L604.9 612.5 L607.9 612.5 L610.9 612.2 L613.9 611.9 L616.9 610.4 L619.9 612.2 L622.9 612.5 L625.9 611.0 L628.9 611.9 L631.9 612.5 L634.8 612.2 L637.8 612.5 L640.8 612.5 L643.8 612.2 L646.8 612.5 L649.8 612.2 L652.8 608.2 L655.8 612.5 L658.8 610.1 L661.8 610.1 L664.8 612.8 L667.8 612.2 L670.8 611.9 L673.8 611.9 L676.7 611.9 L679.7 612.2" fill="none" stroke="#8e8e8e" stroke-width="1" stroke-linejoin="round"/>
<circle cx="449.3" cy="606.1" r="1.8" fill="#8e8e8e"/>
<circle cx="452.3" cy="609.8" r="1.8" fill="#8e8e8e"/>
<circle cx="455.3" cy="607.0" r="1.8" fill="#8e8e8e"/>
<circle cx="458.3" cy="607.0" r="1.8" fill="#8e8e8e"/>
<circle cx="461.3" cy="607.6" r="1.8" fill="#8e8e8e"/>
<circle cx="464.2" cy="563.2" r="1.8" fill="#8e8e8e"/>
<circle cx="467.2" cy="599.1" r="1.8" fill="#8e8e8e"/>
<circle cx="470.2" cy="587.3" r="1.8" fill="#8e8e8e"/>
<circle cx="473.2" cy="573.6" r="1.8" fill="#8e8e8e"/>
<circle cx="476.2" cy="569.9" r="1.8" fill="#8e8e8e"/>
<circle cx="479.2" cy="581.5" r="1.8" fill="#8e8e8e"/>
<circle cx="482.2" cy="595.2" r="1.8" fill="#8e8e8e"/>
<circle cx="485.2" cy="535.9" r="1.8" fill="#8e8e8e"/>
<circle cx="488.2" cy="541.7" r="1.8" fill="#8e8e8e"/>
<circle cx="491.2" cy="543.2" r="1.8" fill="#8e8e8e"/>
<circle cx="494.2" cy="467.2" r="1.8" fill="#8e8e8e"/>
<circle cx="497.2" cy="527.1" r="1.8" fill="#8e8e8e"/>
<circle cx="500.2" cy="592.1" r="1.8" fill="#8e8e8e"/>
<circle cx="503.2" cy="606.7" r="1.8" fill="#8e8e8e"/>
<circle cx="506.1" cy="605.5" r="1.8" fill="#8e8e8e"/>
<circle cx="509.1" cy="611.0" r="1.8" fill="#8e8e8e"/>
<circle cx="512.1" cy="610.7" r="1.8" fill="#8e8e8e"/>
<circle cx="515.1" cy="610.1" r="1.8" fill="#8e8e8e"/>
<circle cx="518.1" cy="608.5" r="1.8" fill="#8e8e8e"/>
<circle cx="521.1" cy="612.2" r="1.8" fill="#8e8e8e"/>
<circle cx="524.1" cy="602.5" r="1.8" fill="#8e8e8e"/>
<circle cx="527.1" cy="606.7" r="1.8" fill="#8e8e8e"/>
<circle cx="530.1" cy="609.8" r="1.8" fill="#8e8e8e"/>
<circle cx="533.1" cy="611.9" r="1.8" fill="#8e8e8e"/>
<circle cx="536.1" cy="602.8" r="1.8" fill="#8e8e8e"/>
<circle cx="539.1" cy="610.1" r="1.8" fill="#8e8e8e"/>
<circle cx="542.1" cy="612.2" r="1.8" fill="#8e8e8e"/>
<circle cx="545.1" cy="612.2" r="1.8" fill="#8e8e8e"/>
<circle cx="548.0" cy="610.7" r="1.8" fill="#8e8e8e"/>
<circle cx="551.0" cy="612.5" r="1.8" fill="#8e8e8e"/>
<circle cx="554.0" cy="612.5" r="1.8" fill="#8e8e8e"/>
<circle cx="557.0" cy="612.2" r="1.8" fill="#8e8e8e"/>
<circle cx="560.0" cy="611.3" r="1.8" fill="#8e8e8e"/>
<circle cx="563.0" cy="609.3" r="1.8" fill="#8e8e8e"/>
<circle cx="566.0" cy="612.2" r="1.8" fill="#8e8e8e"/>
<circle cx="569.0" cy="611.6" r="1.8" fill="#8e8e8e"/>
<circle cx="572.0" cy="611.9" r="1.8" fill="#8e8e8e"/>
<circle cx="575.0" cy="611.6" r="1.8" fill="#8e8e8e"/>
<circle cx="578.0" cy="611.9" r="1.8" fill="#8e8e8e"/>
<circle cx="581.0" cy="612.2" r="1.8" fill="#8e8e8e"/>
<circle cx="584.0" cy="612.5" r="1.8" fill="#8e8e8e"/>
<circle cx="587.0" cy="612.2" r="1.8" fill="#8e8e8e"/>
<circle cx="590.0" cy="612.5" r="1.8" fill="#8e8e8e"/>
<circle cx="592.9" cy="612.2" r="1.8" fill="#8e8e8e"/>
<circle cx="595.9" cy="612.5" r="1.8" fill="#8e8e8e"/>
<circle cx="598.9" cy="612.5" r="1.8" fill="#8e8e8e"/>
<circle cx="601.9" cy="612.2" r="1.8" fill="#8e8e8e"/>
<circle cx="604.9" cy="612.5" r="1.8" fill="#8e8e8e"/>
<circle cx="607.9" cy="612.5" r="1.8" fill="#8e8e8e"/>
<circle cx="610.9" cy="612.2" r="1.8" fill="#8e8e8e"/>
<circle cx="613.9" cy="611.9" r="1.8" fill="#8e8e8e"/>
<circle cx="616.9" cy="610.4" r="1.8" fill="#8e8e8e"/>
<circle cx="619.9" cy="612.2" r="1.8" fill="#8e8e8e"/>
<circle cx="622.9" cy="612.5" r="1.8" fill="#8e8e8e"/>
<circle cx="625.9" cy="611.0" r="1.8" fill="#8e8e8e"/>
<circle cx="628.9" cy="611.9" r="1.8" fill="#8e8e8e"/>
<circle cx="631.9" cy="612.5" r="1.8" fill="#8e8e8e"/>
<circle cx="634.8" cy="612.2" r="1.8" fill="#8e8e8e"/>
<circle cx="637.8" cy="612.5" r="1.8" fill="#8e8e8e"/>
<circle cx="640.8" cy="612.5" r="1.8" fill="#8e8e8e"/>
<circle cx="643.8" cy="612.2" r="1.8" fill="#8e8e8e"/>
<circle cx="646.8" cy="612.5" r="1.8" fill="#8e8e8e"/>
<circle cx="649.8" cy="612.2" r="1.8" fill="#8e8e8e"/>
<circle cx="652.8" cy="608.2" r="1.8" fill="#8e8e8e"/>
<circle cx="655.8" cy="612.5" r="1.8" fill="#8e8e8e"/>
<circle cx="658.8" cy="610.1" r="1.8" fill="#8e8e8e"/>
<circle cx="661.8" cy="610.1" r="1.8" fill="#8e8e8e"/>
<circle cx="664.8" cy="612.8" r="1.8" fill="#8e8e8e"/>
<circle cx="667.8" cy="612.2" r="1.8" fill="#8e8e8e"/>
<circle cx="670.8" cy="611.9" r="1.8" fill="#8e8e8e"/>
<circle cx="673.8" cy="611.9" r="1.8" fill="#8e8e8e"/>
<circle cx="676.7" cy="611.9" r="1.8" fill="#8e8e8e"/>
<circle cx="679.7" cy="612.2" r="1.8" fill="#8e8e8e"/>
<path d="M413.4 612.8 L416.4 612.5 L419.3 612.2 L422.3 611.0 L425.3 611.9 L428.3 612.2 L431.3 612.2 L434.3 611.3 L437.3 609.8 L440.3 607.9 L443.3 605.5 L446.3 607.9" fill="none" stroke="#000" stroke-width="1" stroke-linejoin="round"/>
<circle cx="413.4" cy="612.8" r="1.6" fill="#000"/>
<circle cx="416.4" cy="612.5" r="1.6" fill="#000"/>
<circle cx="419.3" cy="612.2" r="1.6" fill="#000"/>
<circle cx="422.3" cy="611.0" r="1.6" fill="#000"/>
<circle cx="425.3" cy="611.9" r="1.6" fill="#000"/>
<circle cx="428.3" cy="612.2" r="1.6" fill="#000"/>
<circle cx="431.3" cy="612.2" r="1.6" fill="#000"/>
<circle cx="434.3" cy="611.3" r="1.6" fill="#000"/>
<circle cx="437.3" cy="609.8" r="1.6" fill="#000"/>
<circle cx="440.3" cy="607.9" r="1.6" fill="#000"/>
<circle cx="443.3" cy="605.5" r="1.6" fill="#000"/>
<circle cx="446.3" cy="607.9" r="1.6" fill="#000"/>
<path d="M412.5 613.1 L413.4 612.9 L416.4 612.7 L419.3 612.4 L422.3 611.9 L425.3 610.6 L428.3 608.8 L431.3 605.9 L434.3 602.3 L437.3 598.4 L440.3 593.5 L443.3 587.2 L446.3 579.5 L449.3 570.3 L452.3 559.4 L455.3 547.6 L458.3 533.5 L461.3 520.4 L464.2 510.7 L467.2 504.9 L470.2 500.3 L472.5 490.0 L474.4 493.0 L476.2 497.0 L479.2 500.0 L482.2 509.1 L485.2 520.4 L488.2 531.0 L491.2 540.7 L494.2 548.7 L497.2 555.3 L500.2 562.9 L503.2 568.1 L506.1 574.8 L509.1 579.7 L512.1 584.8 L515.1 588.8 L518.1 590.9 L521.1 593.6 L524.1 596.7 L527.1 598.8 L530.1 600.9 L533.1 603.1 L536.1 605.2 L539.1 607.3 L542.1 608.8 L545.1 610.1 L548.0 610.8 L551.0 611.3 L554.0 611.6 L557.0 611.8 L560.0 612.0 L563.0 612.2 L566.0 612.3 L569.0 612.4 L572.0 612.5 L578.0 612.6 L590.0 612.8 L682.7 613.0" fill="none" stroke="#F39B77" stroke-width="1.3" stroke-dasharray="5 4.6"/>
<path d="M413.4 613.0 L416.4 612.7 L419.3 612.6 L422.3 612.4 L425.3 612.2 L428.3 611.9 L431.3 611.5 L434.3 611.0 L437.3 610.5 L440.3 609.8 L443.3 609.2 L446.3 608.4 L449.3 607.6 L452.3 607.1 L455.3 606.2 L458.3 605.4 L461.3 604.6 L464.2 604.0 L467.2 603.4 L470.2 602.8 L473.2 602.6 L476.2 602.2 L479.2 601.9 L482.2 603.3 L485.2 604.0 L488.2 604.9 L491.2 605.8 L494.2 607.0 L497.2 607.7 L500.2 608.5 L503.2 609.4 L506.1 610.0 L509.1 610.6 L512.1 611.1 L515.1 611.5 L518.1 611.6 L521.1 611.9 L524.1 612.2 L527.1 612.4 L530.1 612.5 L533.1 612.5 L536.1 612.6 L539.1 612.6 L542.1 612.6 L545.1 612.6 L548.0 612.7 L551.0 612.7 L554.0 612.7 L557.0 612.7 L560.0 612.8 L563.0 612.8 L566.0 612.8 L569.0 612.9 L572.0 612.9 L575.0 612.9 L578.0 612.9 L581.0 612.9 L584.0 612.9 L587.0 613.0 L590.0 613.0 L592.9 613.0 L595.9 613.0 L598.9 613.0 L601.9 613.0 L604.9 613.0 L607.9 613.0 L610.9 613.0 L613.9 613.0 L616.9 613.0 L619.9 613.0 L622.9 613.0 L625.9 613.0 L628.9 613.1 L631.9 613.1 L634.8 613.1 L637.8 613.1 L640.8 613.1 L643.8 613.1 L646.8 613.1 L649.8 613.1 L652.8 613.1 L655.8 613.1 L658.8 613.1 L661.8 613.1 L664.8 613.1 L667.8 613.1 L670.8 613.1 L673.8 613.1 L676.7 613.1 L679.7 613.1" fill="none" stroke="#F6A283" stroke-width="1.0" stroke-linejoin="round"/>
</g>
<rect x="410.3" y="339.6" width="273.2" height="273.5" fill="none" stroke="#1a1a1a" stroke-width="1.4"/>
<line x1="399.7" y1="613.1" x2="410.3" y2="613.1" stroke="#1a1a1a" stroke-width="1.4"/>
<text x="390.2" y="619.8" text-anchor="end" font-family="Liberation Sans, Arial, sans-serif" font-size="15.7" letter-spacing="0.2" fill="#000" stroke="#000" stroke-width="0.2">0</text>
<line x1="399.7" y1="582.7" x2="410.3" y2="582.7" stroke="#1a1a1a" stroke-width="1.4"/>
<text x="390.2" y="589.4" text-anchor="end" font-family="Liberation Sans, Arial, sans-serif" font-size="15.7" letter-spacing="0.2" fill="#000" stroke="#000" stroke-width="0.2">100</text>
<line x1="399.7" y1="552.3" x2="410.3" y2="552.3" stroke="#1a1a1a" stroke-width="1.4"/>
<text x="390.2" y="559.0" text-anchor="end" font-family="Liberation Sans, Arial, sans-serif" font-size="15.7" letter-spacing="0.2" fill="#000" stroke="#000" stroke-width="0.2">200</text>
<line x1="399.7" y1="521.9" x2="410.3" y2="521.9" stroke="#1a1a1a" stroke-width="1.4"/>
<text x="390.2" y="528.6" text-anchor="end" font-family="Liberation Sans, Arial, sans-serif" font-size="15.7" letter-spacing="0.2" fill="#000" stroke="#000" stroke-width="0.2">300</text>
<line x1="399.7" y1="491.5" x2="410.3" y2="491.5" stroke="#1a1a1a" stroke-width="1.4"/>
<text x="390.2" y="498.2" text-anchor="end" font-family="Liberation Sans, Arial, sans-serif" font-size="15.7" letter-spacing="0.2" fill="#000" stroke="#000" stroke-width="0.2">400</text>
<line x1="399.7" y1="461.1" x2="410.3" y2="461.1" stroke="#1a1a1a" stroke-width="1.4"/>
<text x="390.2" y="467.8" text-anchor="end" font-family="Liberation Sans, Arial, sans-serif" font-size="15.7" letter-spacing="0.2" fill="#000" stroke="#000" stroke-width="0.2">500</text>
<line x1="399.7" y1="430.7" x2="410.3" y2="430.7" stroke="#1a1a1a" stroke-width="1.4"/>
<text x="390.2" y="437.4" text-anchor="end" font-family="Liberation Sans, Arial, sans-serif" font-size="15.7" letter-spacing="0.2" fill="#000" stroke="#000" stroke-width="0.2">600</text>
<line x1="399.7" y1="400.3" x2="410.3" y2="400.3" stroke="#1a1a1a" stroke-width="1.4"/>
<text x="390.2" y="407.0" text-anchor="end" font-family="Liberation Sans, Arial, sans-serif" font-size="15.7" letter-spacing="0.2" fill="#000" stroke="#000" stroke-width="0.2">700</text>
<line x1="399.7" y1="369.9" x2="410.3" y2="369.9" stroke="#1a1a1a" stroke-width="1.4"/>
<text x="390.2" y="376.6" text-anchor="end" font-family="Liberation Sans, Arial, sans-serif" font-size="15.7" letter-spacing="0.2" fill="#000" stroke="#000" stroke-width="0.2">800</text>
<line x1="399.7" y1="339.5" x2="410.3" y2="339.5" stroke="#1a1a1a" stroke-width="1.4"/>
<text x="390.2" y="346.2" text-anchor="end" font-family="Liberation Sans, Arial, sans-serif" font-size="15.7" letter-spacing="0.2" fill="#000" stroke="#000" stroke-width="0.2">900</text>
<line x1="440.3" y1="613.1" x2="440.3" y2="623.5" stroke="#1a1a1a" stroke-width="1.4"/>
<text x="440.1" y="649.2" text-anchor="middle" font-family="Liberation Sans, Arial, sans-serif" font-size="15.7" letter-spacing="0.2" fill="#000" stroke="#000" stroke-width="0.2">Apr 1</text>
<line x1="482.2" y1="613.1" x2="482.2" y2="623.5" stroke="#1a1a1a" stroke-width="1.4"/>
<text x="482.0" y="649.2" text-anchor="middle" font-family="Liberation Sans, Arial, sans-serif" font-size="15.7" letter-spacing="0.2" fill="#000" stroke="#000" stroke-width="0.2">15</text>
<line x1="530.1" y1="613.1" x2="530.1" y2="623.5" stroke="#1a1a1a" stroke-width="1.4"/>
<text x="529.9" y="649.2" text-anchor="middle" font-family="Liberation Sans, Arial, sans-serif" font-size="15.7" letter-spacing="0.2" fill="#000" stroke="#000" stroke-width="0.2">May 1</text>
<line x1="572.0" y1="613.1" x2="572.0" y2="623.5" stroke="#1a1a1a" stroke-width="1.4"/>
<text x="571.8" y="649.2" text-anchor="middle" font-family="Liberation Sans, Arial, sans-serif" font-size="15.7" letter-spacing="0.2" fill="#000" stroke="#000" stroke-width="0.2">15</text>
<line x1="622.9" y1="613.1" x2="622.9" y2="623.5" stroke="#1a1a1a" stroke-width="1.4"/>
<text x="622.7" y="649.2" text-anchor="middle" font-family="Liberation Sans, Arial, sans-serif" font-size="15.7" letter-spacing="0.2" fill="#000" stroke="#000" stroke-width="0.2">Jun 1</text>
<line x1="664.8" y1="613.1" x2="664.8" y2="623.5" stroke="#1a1a1a" stroke-width="1.4"/>
<text x="664.6" y="649.2" text-anchor="middle" font-family="Liberation Sans, Arial, sans-serif" font-size="15.7" letter-spacing="0.2" fill="#000" stroke="#000" stroke-width="0.2">15</text>
<text x="419.6" y="366.1" font-family="Liberation Sans, Arial, sans-serif" font-size="15.7" letter-spacing="0.2" fill="#000" stroke="#000" stroke-width="0.2">(d)</text>
<text x="546.4" y="679.4" text-anchor="middle" font-family="Liberation Sans, Arial, sans-serif" font-size="15.7" letter-spacing="0.2" fill="#000" stroke="#000" stroke-width="0.2">Day</text>
</g>
</svg>
</body></html>
